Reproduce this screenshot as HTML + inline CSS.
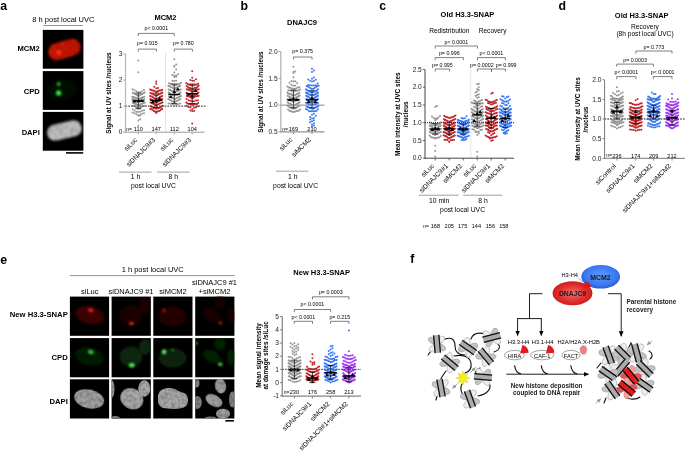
<!DOCTYPE html>
<html><head><meta charset="utf-8"><style>
html,body{margin:0;padding:0;background:#fff;width:685px;height:451px;overflow:hidden}
svg{display:block;filter:blur(0.3px);font-family:"Liberation Sans", sans-serif}
</style></head><body>
<svg width="685" height="451" viewBox="0 0 685 451">
<text x="0.3" y="10.2" font-size="12.3" text-anchor="start" font-weight="bold" fill="#000">a</text>
<text x="240.5" y="10.2" font-size="12.3" text-anchor="start" font-weight="bold" fill="#000">b</text>
<text x="379.3" y="10.2" font-size="12.3" text-anchor="start" font-weight="bold" fill="#000">c</text>
<text x="558.5" y="10.2" font-size="12.3" text-anchor="start" font-weight="bold" fill="#000">d</text>
<text x="0.3" y="263.8" font-size="12.3" text-anchor="start" font-weight="bold" fill="#000">e</text>
<text x="410.3" y="263.4" font-size="12.3" text-anchor="start" font-weight="bold" fill="#000">f</text>
<line x1="125.5" y1="106.13" x2="205.5" y2="106.13" stroke="#444" stroke-width="0.75" stroke-dasharray="1.6 1.2"/>
<line x1="165.6" y1="52" x2="165.6" y2="132.2" stroke="#d0d0d0" stroke-width="0.6"/>
<path d="M138.3 125.68h0M138.3 120.47h0M140.2 119.16h0M138.3 115.74h0M140.2 115.62h0M138.3 115.33h0M140.2 114.81h0M136.4 114.19h0M142.1 113.71h0M134.5 113.34h0M144 113.16h0M132.6 112.48h0M138.3 111.92h0M140.2 111.75h0M136.4 111.7h0M142.1 110.67h0M134.5 110.58h0M144 110.34h0M132.6 109.32h0M138.3 108.25h0M139.22 108.17h0M137.38 107.98h0M140.15 107.7h0M136.45 107.19h0M141.07 107.12h0M135.53 106.64h0M141.99 106.62h0M134.61 106.09h0M142.92 106.09h0M133.68 105.96h0M143.84 105.9h0M132.76 105.8h0M144.76 105.74h0M138.3 105.18h0M139.22 105.1h0M137.38 104.73h0M140.15 104.62h0M136.45 104.59h0M141.07 104.36h0M135.53 103.86h0M141.99 103.7h0M134.61 103.66h0M142.92 103.24h0M133.68 103.03h0M143.84 102.94h0M132.76 102.73h0M144.76 102.49h0M138.3 102.19h0M139.05 102.18h0M137.55 101.88h0M139.8 101.76h0M136.8 101.1h0M140.55 100.6h0M136.05 100.59h0M141.3 100.33h0M135.3 100.13h0M142.05 99.75h0M134.55 99.71h0M142.8 99.71h0M133.8 99.69h0M143.55 99.69h0M133.05 99.29h0M144.3 99.26h0M132.3 99.15h0M138.3 98.92h0M138.85 98.89h0M137.75 98.66h0M139.39 98.66h0M137.21 98.45h0M139.94 98.44h0M136.66 98.38h0M140.48 97.94h0M136.12 97.93h0M141.03 97.87h0M135.57 97.84h0M141.57 97.79h0M135.03 97.77h0M142.12 97.71h0M134.48 97.58h0M142.66 97.55h0M133.94 97.52h0M143.21 97.37h0M133.39 97.11h0M143.75 97.08h0M132.85 96.99h0M144.3 96.86h0M132.3 96.73h0M138.3 95.61h0M139.22 95.51h0M137.38 95.42h0M140.15 94.78h0M136.45 94.71h0M141.07 94.56h0M135.53 94.26h0M141.99 94.14h0M134.61 93.68h0M142.92 93.61h0M133.68 93.37h0M143.84 93.01h0M132.76 92.84h0M144.76 92.42h0M138.3 92.37h0M140.2 92.24h0M136.4 91.3h0M142.1 91.28h0M134.5 90.22h0M144 90.1h0M132.6 89.35h0M138.3 72.24h0M138.3 60.51h0" stroke="#969696" stroke-width="2" stroke-linecap="round"/>
<path d="M156.2 112.89h0M156.2 111.67h0M157.4 111.54h0M155 111.42h0M158.6 111.26h0M153.8 111.11h0M159.8 110.63h0M152.6 109.84h0M161 109.59h0M151.4 109.14h0M162.2 108.99h0M150.2 108.94h0M156.2 108.83h0M157.29 108.54h0M155.11 108.14h0M158.38 108.14h0M154.02 108.1h0M159.47 107.7h0M152.93 107.52h0M160.56 107.18h0M151.84 107.11h0M161.65 106.46h0M150.75 106.15h0M162.75 105.64h0M156.2 105.22h0M156.83 105.16h0M155.57 105.08h0M157.46 104.82h0M154.94 104.59h0M158.09 104.34h0M154.31 104.05h0M158.73 103.95h0M153.67 103.93h0M159.36 103.64h0M153.04 103.54h0M159.99 103.4h0M152.41 103.32h0M160.62 103.29h0M151.78 103.01h0M161.25 102.98h0M151.15 102.79h0M161.88 102.77h0M150.52 102.5h0M162.52 102.31h0M156.2 102.27h0M156.56 102.19h0M155.84 102.17h0M156.93 102.16h0M155.47 101.97h0M157.29 101.96h0M155.11 101.86h0M157.65 101.62h0M154.75 101.59h0M158.02 101.54h0M154.38 101.39h0M158.38 101.36h0M154.02 101.35h0M158.75 101.12h0M153.65 101.01h0M159.11 101.01h0M153.29 100.98h0M159.47 100.91h0M152.93 100.91h0M159.84 100.73h0M152.56 100.6h0M160.2 100.36h0M152.2 100.11h0M160.56 100.04h0M151.84 99.98h0M160.93 99.92h0M151.47 99.91h0M161.29 99.84h0M151.11 99.68h0M161.65 99.57h0M150.75 99.35h0M162.02 99.27h0M150.38 99.24h0M162.38 99.2h0M156.2 98.96h0M156.8 98.93h0M155.6 98.68h0M157.4 98.63h0M155 98.49h0M158 98.42h0M154.4 98.2h0M158.6 98.11h0M153.8 98.1h0M159.2 98.03h0M153.2 97.18h0M159.8 96.93h0M152.6 96.88h0M160.4 96.87h0M152 96.59h0M161 96.53h0M151.4 96.47h0M161.6 96.42h0M150.8 96.3h0M162.2 96.11h0M150.2 95.95h0M156.2 95.66h0M156.68 95.54h0M155.72 95.52h0M157.16 95.31h0M155.24 95.15h0M157.64 95.06h0M154.76 94.89h0M158.12 94.87h0M154.28 94.72h0M158.6 94.48h0M153.8 94.41h0M159.08 94.25h0M153.32 94.2h0M159.56 93.96h0M152.84 93.87h0M160.04 93.82h0M152.36 93.75h0M160.52 93.59h0M151.88 93.58h0M161 93.54h0M151.4 93.39h0M161.48 93.25h0M150.92 93.23h0M161.96 92.97h0M150.44 92.92h0M162.44 92.51h0M156.2 92.04h0M156.95 92h0M155.45 91.58h0M157.7 91.03h0M154.7 91.01h0M158.45 90.89h0M153.95 90.69h0M159.2 90.6h0M153.2 90.55h0M159.95 90.45h0M152.45 90.42h0M160.7 90.42h0M151.7 90.37h0M161.45 90.12h0M150.95 89.93h0M162.2 89.73h0M150.2 89.58h0M156.2 88.31h0M158.1 87.98h0M154.3 86.76h0M156.2 83.81h0M156.2 81.59h0" stroke="#c1272d" stroke-width="2" stroke-linecap="round"/>
<path d="M174.3 105.26h0M176.2 104.81h0M172.4 104.15h0M178.1 104.14h0M170.5 103.65h0M180 103.53h0M168.6 103.53h0M174.3 102.27h0M174.97 101.94h0M173.63 101.58h0M175.63 101.41h0M172.97 101.39h0M176.3 101.17h0M172.3 101.15h0M176.97 101h0M171.63 100.91h0M177.63 100.79h0M170.97 100.37h0M178.3 100.19h0M170.3 100.03h0M178.97 99.83h0M169.63 99.56h0M179.63 99.37h0M168.97 99.35h0M180.3 99.24h0M168.3 99.03h0M174.3 98.78h0M175.63 98.7h0M172.97 98.03h0M176.97 97.95h0M171.63 97.48h0M178.3 97.18h0M170.3 96.91h0M179.63 96.7h0M168.97 96.53h0M180.97 95.91h0M174.3 95.44h0M175.01 95.36h0M173.59 95.33h0M175.71 95.31h0M172.89 95.25h0M176.42 95.09h0M172.18 94.92h0M177.12 94.85h0M171.48 94.67h0M177.83 94.4h0M170.77 94.4h0M178.54 94.32h0M170.06 93.89h0M179.24 93.35h0M169.36 92.78h0M179.95 92.68h0M168.65 92.58h0M180.65 92.5h0M174.3 92.24h0M175.1 91.71h0M173.5 91.39h0M175.9 91.39h0M172.7 91.38h0M176.7 91.04h0M171.9 91.03h0M177.5 91.01h0M171.1 90.64h0M178.3 90.51h0M170.3 90.05h0M179.1 89.98h0M169.5 89.74h0M179.9 89.66h0M168.7 89.56h0M180.7 89.44h0M174.3 89h0M175.05 89h0M173.55 88.6h0M175.8 87.98h0M172.8 87.82h0M176.55 87.81h0M172.05 87.59h0M177.3 87.52h0M171.3 87.28h0M178.05 86.92h0M170.55 86.68h0M178.8 86.35h0M169.8 86.25h0M179.55 86.21h0M169.05 86.09h0M180.3 86.03h0M168.3 85.88h0M174.3 85.19h0M175.63 85.14h0M172.97 85.08h0M176.97 84.87h0M171.63 84.19h0M178.3 84h0M170.3 83.73h0M179.63 83.69h0M168.97 83.32h0M180.97 82.63h0M174.3 80.88h0M176.2 80.71h0M172.4 80.63h0M174.3 77.01h0M176.2 76.82h0M174.3 75.72h0M176.2 75.6h0M172.4 74.92h0M178.1 74.37h0M174.3 72.51h0M176.2 69.38h0M174.3 66.87h0M174.3 65.72h0M176.2 64.42h0M174.3 59.2h0" stroke="#969696" stroke-width="2" stroke-linecap="round"/>
<path d="M192.2 123.6h0M192.2 111.05h0M194.1 111h0M190.3 110.48h0M192.2 108.88h0M194.1 107.76h0M190.3 107.33h0M196 107.2h0M188.4 106.89h0M197.9 106.37h0M186.5 105.69h0M192.2 105.05h0M193.4 104.29h0M191 104.28h0M194.6 104.22h0M189.8 104.12h0M195.8 104.07h0M188.6 104.02h0M197 103.88h0M187.4 103.21h0M198.2 102.89h0M186.2 102.45h0M192.2 101.36h0M194.1 101.33h0M190.3 100.63h0M196 100.53h0M188.4 100.14h0M197.9 100.13h0M186.5 99.01h0M192.2 98.38h0M193.12 97.88h0M191.28 97.53h0M194.05 97.24h0M190.35 97.1h0M194.97 96.62h0M189.43 96.52h0M195.89 96.36h0M188.51 96.34h0M196.82 96.22h0M187.58 96.13h0M197.74 96.09h0M186.66 95.99h0M198.66 95.75h0M192.2 95.2h0M192.91 95.14h0M191.49 94.98h0M193.61 94.9h0M190.79 94.87h0M194.32 94.61h0M190.08 94.59h0M195.02 94.35h0M189.38 94.35h0M195.73 94.34h0M188.67 94.18h0M196.44 94.11h0M187.96 93.89h0M197.14 93.85h0M187.26 93.57h0M197.85 92.79h0M186.55 92.69h0M198.55 92.52h0M192.2 92.12h0M193.29 91.17h0M191.11 91.12h0M194.38 90.43h0M190.02 90.32h0M195.47 89.92h0M188.93 89.86h0M196.56 89.69h0M187.84 89.65h0M197.65 89.47h0M186.75 89.23h0M198.75 89.21h0M192.2 88.96h0M193 88.95h0M191.4 88.65h0M193.8 88.61h0M190.6 88.14h0M194.6 88h0M189.8 87.99h0M195.4 87.95h0M189 87.74h0M196.2 87.65h0M188.2 87.28h0M197 87.26h0M187.4 86.61h0M197.8 86.42h0M186.6 86.11h0M198.6 85.87h0M192.2 85.54h0M193.7 85.45h0M190.7 85.06h0M195.2 84.78h0M189.2 84.65h0M196.7 84.42h0M187.7 84.09h0M198.2 83.77h0M186.2 83.08h0M192.2 80.86h0M194.1 80.69h0M190.3 80h0M196 79.3h0M192.2 77.72h0M192.2 71.16h0" stroke="#c1272d" stroke-width="2" stroke-linecap="round"/>
<line x1="132.3" y1="100.92" x2="144.3" y2="100.92" stroke="#000" stroke-width="1.4"/>
<line x1="138.3" y1="108.74" x2="138.3" y2="93.09" stroke="#000" stroke-width="0.7"/>
<line x1="135.3" y1="108.74" x2="141.3" y2="108.74" stroke="#000" stroke-width="0.7"/>
<line x1="135.3" y1="93.09" x2="141.3" y2="93.09" stroke="#000" stroke-width="0.7"/>
<path d="M134.8 99.44l1.9 3.1h-3.8z" stroke="none" fill="#000" stroke-width="0.8"/>
<path d="M138.8 98.92l1.9 3.1h-3.8z" stroke="none" fill="#000" stroke-width="0.8"/>
<path d="M141.8 98.92l1.9 3.1h-3.8z" stroke="none" fill="#000" stroke-width="0.8"/>
<line x1="150.2" y1="100.39" x2="162.2" y2="100.39" stroke="#000" stroke-width="1.4"/>
<line x1="156.2" y1="107.43" x2="156.2" y2="93.09" stroke="#000" stroke-width="0.7"/>
<line x1="153.2" y1="107.43" x2="159.2" y2="107.43" stroke="#000" stroke-width="0.7"/>
<line x1="153.2" y1="93.09" x2="159.2" y2="93.09" stroke="#000" stroke-width="0.7"/>
<path d="M152.7 100.22l1.9 3.1h-3.8z" stroke="none" fill="#000" stroke-width="0.8"/>
<path d="M156.2 98.92l1.9 3.1h-3.8z" stroke="none" fill="#000" stroke-width="0.8"/>
<path d="M159.7 96.83l1.9 3.1h-3.8z" stroke="none" fill="#000" stroke-width="0.8"/>
<line x1="168.3" y1="94.4" x2="180.3" y2="94.4" stroke="#000" stroke-width="1.4"/>
<line x1="174.3" y1="103.52" x2="174.3" y2="83.97" stroke="#000" stroke-width="0.7"/>
<line x1="171.3" y1="103.52" x2="177.3" y2="103.52" stroke="#000" stroke-width="0.7"/>
<line x1="171.3" y1="83.97" x2="177.3" y2="83.97" stroke="#000" stroke-width="0.7"/>
<path d="M170.8 95.01l1.9 3.1h-3.8z" stroke="none" fill="#000" stroke-width="0.8"/>
<path d="M174.3 89.79l1.9 3.1h-3.8z" stroke="none" fill="#000" stroke-width="0.8"/>
<path d="M177.8 87.18l1.9 3.1h-3.8z" stroke="none" fill="#000" stroke-width="0.8"/>
<line x1="186.2" y1="93.62" x2="198.2" y2="93.62" stroke="#000" stroke-width="1.4"/>
<line x1="192.2" y1="103.52" x2="192.2" y2="83.97" stroke="#000" stroke-width="0.7"/>
<line x1="189.2" y1="103.52" x2="195.2" y2="103.52" stroke="#000" stroke-width="0.7"/>
<line x1="189.2" y1="83.97" x2="195.2" y2="83.97" stroke="#000" stroke-width="0.7"/>
<path d="M188.7 92.4l1.9 3.1h-3.8z" stroke="none" fill="#000" stroke-width="0.8"/>
<path d="M192.2 94.22l1.9 3.1h-3.8z" stroke="none" fill="#000" stroke-width="0.8"/>
<path d="M195.7 89.01l1.9 3.1h-3.8z" stroke="none" fill="#000" stroke-width="0.8"/>
<line x1="125.5" y1="106.13" x2="205.5" y2="106.13" stroke="#444" stroke-width="0.75" stroke-dasharray="1.6 1.2"/>
<line x1="125.5" y1="53.99" x2="125.5" y2="132.6" stroke="#bbbbbb" stroke-width="1.3"/>
<line x1="125.1" y1="132.2" x2="204.5" y2="132.2" stroke="#9a9a9a" stroke-width="1"/>
<line x1="123.3" y1="132.2" x2="125.5" y2="132.2" stroke="#888" stroke-width="0.8"/>
<text x="122.3" y="134.47" font-size="6.6" text-anchor="end" fill="#222">0</text>
<line x1="123.3" y1="106.13" x2="125.5" y2="106.13" stroke="#888" stroke-width="0.8"/>
<text x="122.3" y="108.4" font-size="6.6" text-anchor="end" fill="#222">1</text>
<line x1="123.3" y1="80.06" x2="125.5" y2="80.06" stroke="#888" stroke-width="0.8"/>
<text x="122.3" y="82.33" font-size="6.6" text-anchor="end" fill="#222">2</text>
<line x1="123.3" y1="53.99" x2="125.5" y2="53.99" stroke="#888" stroke-width="0.8"/>
<text x="122.3" y="56.26" font-size="6.6" text-anchor="end" fill="#222">3</text>
<line x1="138.3" y1="132.2" x2="138.3" y2="134.5" stroke="#9a9a9a" stroke-width="0.8"/>
<line x1="156.2" y1="132.2" x2="156.2" y2="134.5" stroke="#9a9a9a" stroke-width="0.8"/>
<line x1="174.3" y1="132.2" x2="174.3" y2="134.5" stroke="#9a9a9a" stroke-width="0.8"/>
<line x1="192.2" y1="132.2" x2="192.2" y2="134.5" stroke="#9a9a9a" stroke-width="0.8"/>
<text x="126.2" y="131.12" font-size="5" text-anchor="start" fill="#000">n=</text>
<text x="138.3" y="131.33" font-size="5.6" text-anchor="middle" fill="#000">110</text>
<text x="156.2" y="131.33" font-size="5.6" text-anchor="middle" fill="#000">147</text>
<text x="174.3" y="131.33" font-size="5.6" text-anchor="middle" fill="#000">112</text>
<text x="192.2" y="131.33" font-size="5.6" text-anchor="middle" fill="#000">104</text>
<text x="0" y="0" font-size="6.6" text-anchor="end" transform="translate(137.7 140.4) rotate(-45)">siLuc</text>
<text x="0" y="0" font-size="6.6" text-anchor="end" transform="translate(155.6 140.4) rotate(-45)">siDNAJC9#3</text>
<text x="0" y="0" font-size="6.6" text-anchor="end" transform="translate(173.7 140.4) rotate(-45)">siLuc</text>
<text x="0" y="0" font-size="6.6" text-anchor="end" transform="translate(191.6 140.4) rotate(-45)">siDNAJC9#3</text>
<text x="0" y="0" font-size="6.4" font-weight="bold" text-anchor="middle" transform="translate(109.2 93.2) rotate(-90)" dy="2.2">Signal at UV sites /nucleus</text>
<path d="M138.3 36V33.4H174.3V36" stroke="#555" fill="none" stroke-width="0.75"/>
<text x="156.3" y="30.22" font-size="5.3" text-anchor="middle" fill="#000">p&lt; 0.0001</text>
<path d="M138.3 51.7V49.1H156.4V51.7" stroke="#555" fill="none" stroke-width="0.75"/>
<text x="147.35" y="45.22" font-size="5.3" text-anchor="middle" fill="#000">p= 0.915</text>
<path d="M174.3 51.7V49.1H192.4V51.7" stroke="#555" fill="none" stroke-width="0.75"/>
<text x="183.35" y="45.22" font-size="5.3" text-anchor="middle" fill="#000">p= 0.780</text>
<text x="165.5" y="19.78" font-size="7.5" text-anchor="middle" font-weight="bold" fill="#000">MCM2</text>
<line x1="119" y1="172.1" x2="151.6" y2="172.1" stroke="#888" stroke-width="0.8"/>
<line x1="157" y1="172.1" x2="189.6" y2="172.1" stroke="#888" stroke-width="0.8"/>
<text x="135.5" y="179.14" font-size="6.8" text-anchor="middle" fill="#000">1 h</text>
<text x="173.3" y="179.14" font-size="6.8" text-anchor="middle" fill="#000">8 h</text>
<text x="153.5" y="187.64" font-size="6.8" text-anchor="middle" fill="#000">post local UVC</text>
<line x1="280.8" y1="105.15" x2="324.5" y2="105.15" stroke="#999" stroke-width="0.75"/>
<path d="M293.4 111.88h0M294.73 111.87h0M292.07 111.83h0M296.07 111.34h0M290.73 111.11h0M297.4 110.85h0M289.4 110.71h0M298.73 110.67h0M288.07 109.6h0M300.07 109.55h0M293.4 108.72h0M294.15 108.53h0M292.65 108.45h0M294.9 108.18h0M291.9 108.08h0M295.65 108.01h0M291.15 107.96h0M296.4 107.67h0M290.4 107.32h0M297.15 107.05h0M289.65 106.9h0M297.9 106.85h0M288.9 106.63h0M298.65 106.28h0M288.15 106h0M299.4 105.83h0M287.4 105.74h0M293.4 105.6h0M293.88 105.46h0M292.92 105.46h0M294.36 105.44h0M292.44 105.37h0M294.84 105.34h0M291.96 105.24h0M295.32 105.02h0M291.48 105h0M295.8 104.41h0M291 104.25h0M296.28 104.05h0M290.52 103.98h0M296.76 103.97h0M290.04 103.74h0M297.24 103.69h0M289.56 103.65h0M297.72 103.58h0M289.08 103.49h0M298.2 103.24h0M288.6 103.11h0M298.68 102.79h0M288.12 102.63h0M299.16 102.38h0M287.64 102.32h0M299.64 102.31h0M293.4 101.81h0M293.77 101.72h0M293.02 101.66h0M294.15 101.59h0M292.65 101.5h0M294.52 101.05h0M292.27 101.01h0M294.9 100.96h0M291.9 100.85h0M295.27 100.77h0M291.52 100.73h0M295.65 100.72h0M291.15 100.64h0M296.02 100.6h0M290.77 100.37h0M296.4 100.33h0M290.4 100.29h0M296.77 100.2h0M290.02 100.16h0M297.15 100.09h0M289.65 100.04h0M297.52 99.93h0M289.27 99.88h0M297.9 99.88h0M288.9 99.82h0M298.27 99.77h0M288.52 99.7h0M298.65 99.65h0M288.15 99.64h0M299.02 99.61h0M287.77 99.59h0M299.4 99.5h0M287.4 99.38h0M293.4 98.95h0M293.81 98.82h0M292.99 98.62h0M294.23 98.62h0M292.57 98.56h0M294.64 98.52h0M292.16 98.44h0M295.06 98.2h0M291.74 97.82h0M295.47 97.8h0M291.33 97.73h0M295.88 97.64h0M290.92 97.44h0M296.3 97.43h0M290.5 97.34h0M296.71 97.32h0M290.09 97.31h0M297.12 97.26h0M289.68 97.21h0M297.54 97.11h0M289.26 96.86h0M297.95 96.86h0M288.85 96.53h0M298.37 96.2h0M288.43 96.15h0M298.78 96.11h0M288.02 96.05h0M299.19 95.72h0M287.61 95.71h0M299.61 95.71h0M293.4 95.66h0M293.95 95.6h0M292.85 95.23h0M294.49 95.13h0M292.31 94.97h0M295.04 94.89h0M291.76 94.76h0M295.58 94.7h0M291.22 94.66h0M296.13 94.39h0M290.67 94.1h0M296.67 94.03h0M290.13 93.91h0M297.22 93.83h0M289.58 93.82h0M297.76 93.79h0M289.04 93.65h0M298.31 93.64h0M288.49 93.61h0M298.85 93.49h0M287.95 93.29h0M299.4 92.6h0M287.4 92.58h0M293.4 92.2h0M295.11 90.96h0M291.69 90.84h0M296.83 90.72h0M289.97 90.47h0M298.54 90.36h0M288.26 90.32h0M300.26 89.53h0M293.4 89.1h0M294.9 88.84h0M291.9 88.45h0M296.4 88.24h0M290.4 87.82h0M297.9 87.58h0M288.9 87.44h0M299.4 87.23h0M287.4 86.42h0M293.4 85.74h0M295.3 85.46h0M291.5 84.85h0M297.2 82.96h0M289.6 82.78h0M293.4 81.47h0M295.3 81.15h0M291.5 81.05h0M293.4 77.37h0M293.4 73.05h0M293.4 71.98h0M295.3 71.45h0M293.4 66.63h0" stroke="#969696" stroke-width="2" stroke-linecap="round"/>
<path d="M312 126.55h0M313.9 125.48h0M312 124.41h0M313.9 123.34h0M310.1 122.27h0M312 121.2h0M313.9 120.13h0M310.1 119.59h0M312 118.53h0M313.9 117.99h0M310.1 116.92h0M315.8 115.85h0M312 114.78h0M313.9 113.71h0M312 111.31h0M313.5 111.28h0M310.5 111.16h0M315 111.15h0M309 111.13h0M316.5 110.75h0M307.5 109.63h0M318 109.22h0M306 109.03h0M312 108.67h0M313.09 108.66h0M310.91 108.12h0M314.18 107.98h0M309.82 107.8h0M315.27 107.47h0M308.73 107.2h0M316.36 107.19h0M307.64 106.97h0M317.45 106.87h0M306.55 106.41h0M318.55 105.81h0M312 105.45h0M312.55 105.02h0M311.45 104.81h0M313.09 104.55h0M310.91 104.43h0M313.64 104.36h0M310.36 104.32h0M314.18 104.24h0M309.82 104.17h0M314.73 104.15h0M309.27 104.14h0M315.27 104.07h0M308.73 104.06h0M315.82 103.99h0M308.18 103.9h0M316.36 103.79h0M307.64 103.59h0M316.91 103.35h0M307.09 103.19h0M317.45 103.14h0M306.55 103.08h0M318 102.9h0M306 102.74h0M312 102.23h0M312.34 102.13h0M311.66 102.1h0M312.69 102.02h0M311.31 101.95h0M313.03 101.92h0M310.97 101.89h0M313.37 101.8h0M310.63 101.74h0M313.71 101.72h0M310.29 101.71h0M314.06 101.67h0M309.94 101.65h0M314.4 101.57h0M309.6 101.34h0M314.74 101.03h0M309.26 100.96h0M315.09 100.92h0M308.91 100.91h0M315.43 100.82h0M308.57 100.77h0M315.77 100.52h0M308.23 100.35h0M316.11 100.12h0M307.89 100.04h0M316.46 99.95h0M307.54 99.93h0M316.8 99.87h0M307.2 99.7h0M317.14 99.67h0M306.86 99.42h0M317.49 99.35h0M306.51 99.32h0M317.83 99.13h0M306.17 99.04h0M318.17 99.02h0M312 99h0M312.31 98.94h0M311.69 98.93h0M312.62 98.9h0M311.38 98.78h0M312.92 98.68h0M311.08 98.63h0M313.23 98.6h0M310.77 98.59h0M313.54 98.49h0M310.46 98.43h0M313.85 98.42h0M310.15 98.41h0M314.15 98.2h0M309.85 98.15h0M314.46 98.1h0M309.54 98.07h0M314.77 97.9h0M309.23 97.81h0M315.08 97.34h0M308.92 97.15h0M315.38 97.14h0M308.62 97.09h0M315.69 97.06h0M308.31 97.05h0M316 96.76h0M308 96.74h0M316.31 96.69h0M307.69 96.64h0M316.62 96.58h0M307.38 96.39h0M316.92 96.39h0M307.08 96.31h0M317.23 96.25h0M306.77 96.05h0M317.54 95.96h0M306.46 95.91h0M317.85 95.79h0M306.15 95.77h0M318.15 95.75h0M312 95.38h0M312.43 95.28h0M311.57 95.19h0M312.86 95.11h0M311.14 95.04h0M313.29 95.01h0M310.71 95h0M313.71 94.92h0M310.29 94.9h0M314.14 94.77h0M309.86 94.74h0M314.57 94.74h0M309.43 94.54h0M315 94.49h0M309 94.47h0M315.43 94.37h0M308.57 94.33h0M315.86 94.14h0M308.14 93.87h0M316.29 93.72h0M307.71 93.6h0M316.71 93.4h0M307.29 93.36h0M317.14 93.31h0M306.86 93.31h0M317.57 92.84h0M306.43 92.71h0M318 92.71h0M306 92.63h0M312 92.35h0M312.6 92.25h0M311.4 92.21h0M313.2 91.94h0M310.8 91.92h0M313.8 91.84h0M310.2 91.72h0M314.4 91.6h0M309.6 91.58h0M315 91.39h0M309 91.32h0M315.6 91.27h0M308.4 90.98h0M316.2 90.93h0M307.8 90.51h0M316.8 90.44h0M307.2 90.28h0M317.4 90.07h0M306.6 89.66h0M318 89.22h0M306 89.14h0M312 88.88h0M313.33 88.78h0M310.67 88.27h0M314.67 88h0M309.33 87.57h0M316 87.05h0M308 86.58h0M317.33 86.04h0M306.67 86.02h0M318.67 85.81h0M312 85.38h0M313.9 85.38h0M310.1 85.26h0M315.8 85.15h0M308.2 85.05h0M317.7 83.49h0M312 81.44h0M313.9 81.01h0M310.1 80.8h0M315.8 79.74h0M308.2 79.55h0M312 78.75h0M313.9 77.62h0M312 71.98h0M313.9 70.38h0M312 68.77h0" stroke="#3a78f2" stroke-width="2" stroke-linecap="round"/>
<line x1="287.4" y1="99.8" x2="299.4" y2="99.8" stroke="#000" stroke-width="1.4"/>
<line x1="293.4" y1="107.83" x2="293.4" y2="90.17" stroke="#000" stroke-width="0.7"/>
<line x1="290.4" y1="107.83" x2="296.4" y2="107.83" stroke="#000" stroke-width="0.7"/>
<line x1="290.4" y1="90.17" x2="296.4" y2="90.17" stroke="#000" stroke-width="0.7"/>
<path d="M289.9 97.8l1.9 3.1h-3.8z" stroke="none" fill="#000" stroke-width="0.8"/>
<path d="M293.4 96.73l1.9 3.1h-3.8z" stroke="none" fill="#000" stroke-width="0.8"/>
<path d="M296.9 97.8l1.9 3.1h-3.8z" stroke="none" fill="#000" stroke-width="0.8"/>
<line x1="306" y1="99.8" x2="318" y2="99.8" stroke="#000" stroke-width="1.4"/>
<line x1="312" y1="107.83" x2="312" y2="90.71" stroke="#000" stroke-width="0.7"/>
<line x1="309" y1="107.83" x2="315" y2="107.83" stroke="#000" stroke-width="0.7"/>
<line x1="309" y1="90.71" x2="315" y2="90.71" stroke="#000" stroke-width="0.7"/>
<path d="M308.5 99.94l1.9 3.1h-3.8z" stroke="none" fill="#000" stroke-width="0.8"/>
<path d="M312 96.2l1.9 3.1h-3.8z" stroke="none" fill="#000" stroke-width="0.8"/>
<path d="M315.5 99.94l1.9 3.1h-3.8z" stroke="none" fill="#000" stroke-width="0.8"/>
<line x1="280.8" y1="105.15" x2="324.5" y2="105.15" stroke="#999" stroke-width="0.75"/>
<line x1="280.8" y1="51.65" x2="280.8" y2="132.3" stroke="#b5b5b5" stroke-width="1.3"/>
<line x1="280.4" y1="131.9" x2="324.5" y2="131.9" stroke="#777777" stroke-width="1"/>
<line x1="278.6" y1="131.9" x2="280.8" y2="131.9" stroke="#888" stroke-width="0.8"/>
<text x="277.6" y="134.17" font-size="6.6" text-anchor="end" fill="#222">0.5</text>
<line x1="278.6" y1="105.15" x2="280.8" y2="105.15" stroke="#888" stroke-width="0.8"/>
<text x="277.6" y="107.42" font-size="6.6" text-anchor="end" fill="#222">1.0</text>
<line x1="278.6" y1="78.4" x2="280.8" y2="78.4" stroke="#888" stroke-width="0.8"/>
<text x="277.6" y="80.67" font-size="6.6" text-anchor="end" fill="#222">1.5</text>
<line x1="278.6" y1="51.65" x2="280.8" y2="51.65" stroke="#888" stroke-width="0.8"/>
<text x="277.6" y="53.92" font-size="6.6" text-anchor="end" fill="#222">2.0</text>
<line x1="293.4" y1="131.9" x2="293.4" y2="134.2" stroke="#777777" stroke-width="0.8"/>
<line x1="312" y1="131.9" x2="312" y2="134.2" stroke="#777777" stroke-width="0.8"/>
<text x="282.3" y="130.92" font-size="5" text-anchor="start" fill="#000">n=</text>
<text x="293.4" y="131.13" font-size="5.6" text-anchor="middle" fill="#000">169</text>
<text x="312" y="131.13" font-size="5.6" text-anchor="middle" fill="#000">210</text>
<text x="0" y="0" font-size="6.6" text-anchor="end" transform="translate(292.8 140.1) rotate(-45)">siLuc</text>
<text x="0" y="0" font-size="6.6" text-anchor="end" transform="translate(311.4 140.1) rotate(-45)">siMCM2</text>
<text x="0" y="0" font-size="6.4" font-weight="bold" text-anchor="middle" transform="translate(260.4 92.2) rotate(-90)" dy="2.2">Signal at UV sites /nucleus</text>
<path d="M293.4 59.6V57H312V59.6" stroke="#555" fill="none" stroke-width="0.75"/>
<text x="302.7" y="53.02" font-size="5.3" text-anchor="middle" fill="#000">p= 0.375</text>
<text x="302" y="24.78" font-size="7.5" text-anchor="middle" font-weight="bold" fill="#000">DNAJC9</text>
<line x1="276" y1="171.2" x2="308.5" y2="171.2" stroke="#888" stroke-width="0.8"/>
<text x="292.7" y="179.14" font-size="6.8" text-anchor="middle" fill="#000">1 h</text>
<text x="295.6" y="187.64" font-size="6.8" text-anchor="middle" fill="#000">post local UVC</text>
<line x1="425" y1="122.7" x2="514" y2="122.7" stroke="#333" stroke-width="0.75" stroke-dasharray="1 1"/>
<line x1="470.8" y1="69" x2="470.8" y2="158.2" stroke="#d0d0d0" stroke-width="0.6"/>
<path d="M435.2 156.42h0M435.2 151.1h0M435.2 145.77h0M435.2 138.64h0M435.2 138.16h0M436.6 137.71h0M433.8 137.66h0M438 137.65h0M432.4 137.52h0M439.4 137.26h0M431 137.03h0M440.8 136h0M429.6 135.6h0M435.2 135.1h0M435.65 134.85h0M434.75 134.78h0M436.1 134.18h0M434.3 134.13h0M436.54 134.06h0M433.86 133.95h0M436.99 133.93h0M433.41 133.83h0M437.44 133.61h0M432.96 133.44h0M437.89 133.44h0M432.51 133.14h0M438.34 133.14h0M432.06 133.02h0M438.78 133.01h0M431.62 132.77h0M439.23 132.72h0M431.17 132.52h0M439.68 132.51h0M430.72 132.41h0M440.13 132.31h0M430.27 132.13h0M440.58 132.11h0M429.82 132.06h0M441.02 132.01h0M435.2 131.96h0M435.46 131.95h0M434.94 131.87h0M435.72 131.82h0M434.68 131.71h0M435.98 131.63h0M434.42 131.54h0M436.24 131.5h0M434.16 131.42h0M436.5 131.29h0M433.9 131.25h0M436.76 131.21h0M433.64 131.03h0M437.02 130.76h0M433.38 130.76h0M437.28 130.75h0M433.12 130.73h0M437.54 130.65h0M432.86 130.59h0M437.8 130.59h0M432.6 130.52h0M438.07 130.48h0M432.33 130.47h0M438.33 130.47h0M432.07 130.44h0M438.59 130.37h0M431.81 130.12h0M438.85 129.98h0M431.55 129.91h0M439.11 129.88h0M431.29 129.64h0M439.37 129.63h0M431.03 129.55h0M439.63 129.3h0M430.77 129.25h0M439.89 129.25h0M430.51 129.21h0M440.15 129.21h0M430.25 129.18h0M440.41 129.03h0M429.99 128.98h0M440.67 128.91h0M429.73 128.85h0M440.93 128.77h0M435.2 128.69h0M435.44 128.69h0M434.96 128.5h0M435.69 128.45h0M434.71 128.37h0M435.93 128.37h0M434.47 128.35h0M436.17 128.3h0M434.23 128.28h0M436.42 128.25h0M433.98 128.2h0M436.66 128.13h0M433.74 128.09h0M436.9 128.09h0M433.5 128.08h0M437.15 127.98h0M433.25 127.78h0M437.39 127.76h0M433.01 127.58h0M437.63 127.46h0M432.77 127.34h0M437.88 127.33h0M432.52 127.24h0M438.12 126.97h0M432.28 126.97h0M438.37 126.91h0M432.03 126.88h0M438.61 126.64h0M431.79 126.62h0M438.85 126.6h0M431.55 126.53h0M439.1 126.51h0M431.3 126.49h0M439.34 126.48h0M431.06 126.41h0M439.58 126.35h0M430.82 126.16h0M439.83 126.02h0M430.57 125.99h0M440.07 125.93h0M430.33 125.92h0M440.31 125.87h0M430.09 125.81h0M440.56 125.47h0M429.84 125.44h0M440.8 125.44h0M429.6 125.41h0M435.2 125.34h0M435.61 125.28h0M434.79 125.25h0M436.03 125.13h0M434.37 125.06h0M436.44 124.86h0M433.96 124.84h0M436.86 124.83h0M433.54 124.82h0M437.27 124.71h0M433.13 124.69h0M437.69 124.68h0M432.71 124.61h0M438.1 124.59h0M432.3 124.42h0M438.52 124.22h0M431.88 124.17h0M438.93 123.66h0M431.47 123.39h0M439.35 123.37h0M431.05 123.21h0M439.76 123.15h0M430.64 122.91h0M440.18 122.91h0M430.22 122.82h0M440.59 122.53h0M429.81 122.37h0M441.01 122.26h0M435.2 120.49h0M436.8 119.19h0M435.2 118.77h0M436.8 118.39h0M433.6 118.06h0M438.4 117.59h0M432 116.41h0M440 115.9h0M435.2 106.72h0M436.8 106.01h0" stroke="#969696" stroke-width="2" stroke-linecap="round"/>
<path d="M449.2 142.06h0M449.2 141.52h0M450.8 140.25h0M447.6 140.07h0M452.4 140.01h0M446 139.87h0M454 139.71h0M444.4 139.68h0M449.2 138.31h0M449.82 138.1h0M448.58 138.05h0M450.44 137.75h0M447.96 137.68h0M451.07 137.37h0M447.33 137.25h0M451.69 137.15h0M446.71 136.74h0M452.31 136.38h0M446.09 136.36h0M452.93 136.23h0M445.47 136.16h0M453.56 136.01h0M444.84 135.87h0M454.18 135.52h0M444.22 135.48h0M454.8 135.47h0M443.6 135.35h0M449.2 135.29h0M449.49 135.05h0M448.91 134.83h0M449.79 134.76h0M448.61 134.24h0M450.08 134.12h0M448.32 134.1h0M450.38 133.92h0M448.02 133.91h0M450.67 133.88h0M447.73 133.61h0M450.97 133.55h0M447.43 133.52h0M451.26 133.41h0M447.14 133.34h0M451.56 133.31h0M446.84 133.26h0M451.85 133.13h0M446.55 133.04h0M452.15 133.01h0M446.25 132.91h0M452.44 132.88h0M445.96 132.83h0M452.74 132.82h0M445.66 132.72h0M453.03 132.68h0M445.37 132.59h0M453.33 132.59h0M445.07 132.51h0M453.62 132.47h0M444.78 132.43h0M453.92 132.42h0M444.48 132.39h0M454.21 132.32h0M444.19 132.25h0M454.51 132.19h0M443.89 132.18h0M454.8 132.1h0M443.6 132.07h0M449.2 131.96h0M449.56 131.75h0M448.84 131.4h0M449.92 130.95h0M448.48 130.9h0M450.28 130.88h0M448.12 130.87h0M450.65 130.74h0M447.75 130.68h0M451.01 130.63h0M447.39 130.61h0M451.37 130.59h0M447.03 130.34h0M451.73 129.95h0M446.67 129.87h0M452.09 129.79h0M446.31 129.76h0M452.45 129.73h0M445.95 129.65h0M452.81 129.57h0M445.59 129.47h0M453.17 129.46h0M445.23 129.29h0M453.54 129.21h0M444.86 129.11h0M453.9 129.08h0M444.5 129.02h0M454.26 128.94h0M444.14 128.87h0M454.62 128.86h0M443.78 128.81h0M454.98 128.7h0M449.2 128.64h0M449.44 128.61h0M448.96 128.6h0M449.68 128.55h0M448.72 128.55h0M449.91 128.42h0M448.49 128.4h0M450.15 128.31h0M448.25 128.27h0M450.39 128.14h0M448.01 128.13h0M450.63 128.11h0M447.77 128.01h0M450.87 127.96h0M447.53 127.87h0M451.11 127.84h0M447.29 127.7h0M451.34 127.62h0M447.06 127.53h0M451.58 127.52h0M446.82 127.46h0M451.82 127.45h0M446.58 127.4h0M452.06 127.34h0M446.34 127.29h0M452.3 127.17h0M446.1 127.13h0M452.54 127.05h0M445.86 127.03h0M452.77 127h0M445.63 126.98h0M453.01 126.77h0M445.39 126.77h0M453.25 126.74h0M445.15 126.71h0M453.49 126.53h0M444.91 126.52h0M453.73 126.26h0M444.67 126.18h0M453.97 126.16h0M444.43 126h0M454.2 125.97h0M444.2 125.92h0M454.44 125.81h0M443.96 125.62h0M454.68 125.54h0M443.72 125.53h0M454.92 125.5h0M449.2 125.38h0M449.63 125.31h0M448.77 125.22h0M450.06 125.01h0M448.34 124.97h0M450.49 124.94h0M447.91 124.82h0M450.92 124.8h0M447.48 124.69h0M451.35 124.68h0M447.05 124.61h0M451.78 124.32h0M446.62 124.28h0M452.22 124.13h0M446.18 123.99h0M452.65 123.86h0M445.75 123.85h0M453.08 123.82h0M445.32 123.75h0M453.51 123.37h0M444.89 123.35h0M453.94 123.17h0M444.46 123.08h0M454.37 122.99h0M444.03 122.62h0M454.8 122.5h0M443.6 122.38h0M449.2 121.77h0M449.73 121.64h0M448.67 121.59h0M450.27 121.46h0M448.13 121.35h0M450.8 121.12h0M447.6 121h0M451.33 120.89h0M447.07 120.85h0M451.87 120.84h0M446.53 120.83h0M452.4 120.55h0M446 120.31h0M452.93 120.12h0M445.47 120.11h0M453.47 120.11h0M444.93 120.07h0M454 119.68h0M444.4 119.5h0M454.53 119.36h0M443.87 119.34h0M455.07 118.95h0M449.2 118.12h0M450.44 117.86h0M447.96 117.62h0M451.69 117.13h0M446.71 117.1h0M452.93 117.02h0M445.47 116.66h0M454.18 116.28h0M444.22 115.68h0M455.42 115.6h0" stroke="#c1272d" stroke-width="2" stroke-linecap="round"/>
<path d="M463.2 140.05h0M464.8 140.04h0M461.6 139.89h0M466.4 138.91h0M463.2 138.58h0M463.82 137.94h0M462.58 137.84h0M464.44 137.33h0M461.96 137.27h0M465.07 137.26h0M461.33 137.11h0M465.69 137.01h0M460.71 136.77h0M466.31 136.68h0M460.09 136.67h0M466.93 136.55h0M459.47 136.33h0M467.56 136.32h0M458.84 136.14h0M468.18 136.12h0M458.22 136.02h0M468.8 135.8h0M457.6 135.52h0M463.2 135.03h0M463.63 134.97h0M462.77 134.86h0M464.06 134.78h0M462.34 134.75h0M464.49 134.65h0M461.91 134.3h0M464.92 134.29h0M461.48 133.69h0M465.35 133.68h0M461.05 133.64h0M465.78 133.48h0M460.62 133.43h0M466.22 133.09h0M460.18 133.06h0M466.65 133.04h0M459.75 132.87h0M467.08 132.78h0M459.32 132.74h0M467.51 132.68h0M458.89 132.55h0M467.94 132.47h0M458.46 132.21h0M468.37 132.18h0M458.03 132.14h0M468.8 132.07h0M457.6 132.03h0M463.2 131.98h0M463.6 131.95h0M462.8 131.86h0M464 131.84h0M462.4 131.68h0M464.4 131.59h0M462 131.49h0M464.8 131.44h0M461.6 131.27h0M465.2 131.25h0M461.2 131.04h0M465.6 130.99h0M460.8 130.85h0M466 130.72h0M460.4 130.53h0M466.4 130.43h0M460 130.21h0M466.8 130.16h0M459.6 130.05h0M467.2 129.94h0M459.2 129.91h0M467.6 129.87h0M458.8 129.87h0M468 129.69h0M458.4 129.67h0M468.4 129.53h0M458 129.02h0M468.8 128.95h0M457.6 128.92h0M463.2 128.63h0M463.49 128.58h0M462.91 128.48h0M463.77 128.19h0M462.63 128.17h0M464.06 128.17h0M462.34 128.16h0M464.35 128.06h0M462.05 127.96h0M464.64 127.85h0M461.76 127.77h0M464.92 127.69h0M461.48 127.66h0M465.21 127.51h0M461.19 127.47h0M465.5 127.39h0M460.9 127.34h0M465.78 127.34h0M460.62 127.27h0M466.07 127.23h0M460.33 127.08h0M466.36 127.03h0M460.04 126.84h0M466.65 126.78h0M459.75 126.6h0M466.93 126.57h0M459.47 126.53h0M467.22 126.38h0M459.18 126.33h0M467.51 126.32h0M458.89 126.25h0M467.79 126.14h0M458.61 126.05h0M468.08 126.01h0M458.32 125.99h0M468.37 125.96h0M458.03 125.92h0M468.66 125.89h0M457.74 125.74h0M468.94 125.47h0M463.2 125.23h0M463.49 125.14h0M462.91 125.09h0M463.79 124.99h0M462.61 124.96h0M464.08 124.93h0M462.32 124.88h0M464.38 124.88h0M462.02 124.87h0M464.67 124.55h0M461.73 124.54h0M464.97 124.53h0M461.43 124.36h0M465.26 124.36h0M461.14 124.27h0M465.56 124.26h0M460.84 124.16h0M465.85 124.15h0M460.55 124.08h0M466.15 123.98h0M460.25 123.77h0M466.44 123.56h0M459.96 123.5h0M466.74 123.49h0M459.66 123.46h0M467.03 123.44h0M459.37 123.39h0M467.33 123.35h0M459.07 123.25h0M467.62 123.2h0M458.78 123.09h0M467.92 123.03h0M458.48 123.03h0M468.21 122.91h0M458.19 122.75h0M468.51 122.61h0M457.89 122.4h0M468.8 122.18h0M457.6 122.18h0M463.2 122h0M464.13 121.93h0M462.27 121.49h0M465.07 121.26h0M461.33 121.22h0M466 120.95h0M460.4 120.9h0M466.93 120.85h0M459.47 120.6h0M467.87 120.59h0M458.53 120.44h0M468.8 119.7h0M457.6 119.66h0M463.2 118.4h0M464.8 118.15h0M461.6 118.05h0M466.4 116.34h0" stroke="#3a78f2" stroke-width="2" stroke-linecap="round"/>
<path d="M477.2 156.42h0M477.2 151.81h0M477.2 135.12h0M478.8 133.58h0M475.6 132.06h0M477.2 131.94h0M478.8 131.41h0M475.6 131.33h0M480.4 130.03h0M474 129.84h0M482 129.67h0M472.4 129.36h0M477.2 128.19h0M478.44 128.06h0M475.96 127.3h0M479.69 127.27h0M474.71 127.14h0M480.93 126.78h0M473.47 126.53h0M482.18 126.34h0M472.22 125.59h0M483.42 125.48h0M477.2 125.39h0M477.79 125.17h0M476.61 124.95h0M478.38 124.79h0M476.02 124.56h0M478.97 124.45h0M475.43 124.15h0M479.56 124.12h0M474.84 123.92h0M480.15 123.88h0M474.25 123.81h0M480.74 123.71h0M473.66 123.49h0M481.33 123.25h0M473.07 122.84h0M481.92 122.64h0M472.48 122.57h0M482.51 122.5h0M471.89 122.41h0M483.09 122.38h0M477.2 122.04h0M477.95 121.88h0M476.45 121.88h0M478.69 121.87h0M475.71 121.13h0M479.44 121.02h0M474.96 120.97h0M480.19 120.49h0M474.21 120.26h0M480.93 120.24h0M473.47 119.96h0M481.68 119.81h0M472.72 119.78h0M482.43 119.22h0M471.97 119.2h0M483.17 119.05h0M477.2 118.71h0M477.95 118.55h0M476.45 118.39h0M478.69 118.3h0M475.71 117.97h0M479.44 117.94h0M474.96 117.86h0M480.19 116.94h0M474.21 116.92h0M480.93 116.84h0M473.47 116.7h0M481.68 116.59h0M472.72 116.53h0M482.43 116.43h0M471.97 116.25h0M483.17 115.76h0M477.2 115.47h0M477.79 115.38h0M476.61 115.37h0M478.38 115.14h0M476.02 115.06h0M478.97 114.92h0M475.43 114.62h0M479.56 114.18h0M474.84 114.09h0M480.15 114.09h0M474.25 113.81h0M480.74 113.52h0M473.66 113.41h0M481.33 113.39h0M473.07 113.38h0M481.92 113.15h0M472.48 112.78h0M482.51 112.33h0M471.89 112.31h0M483.09 112.2h0M477.2 111.8h0M477.9 111.74h0M476.5 111.63h0M478.6 111.59h0M475.8 111.57h0M479.3 111.53h0M475.1 111.35h0M480 111.03h0M474.4 110.96h0M480.7 110.53h0M473.7 110.33h0M481.4 110.07h0M473 109.99h0M482.1 109.34h0M472.3 109.32h0M482.8 109.1h0M471.6 108.96h0M477.2 108.75h0M478.8 108.4h0M475.6 107.55h0M480.4 106.77h0M474 106.75h0M482 106.37h0M477.2 105.38h0M478.6 105.32h0M475.8 104.81h0M480 104.1h0M474.4 103.22h0M481.4 103.22h0M473 103.19h0M482.8 103.17h0M471.6 102.38h0M477.2 101.97h0M478.8 101.21h0M475.6 100.93h0M480.4 100.63h0M474 100.52h0M482 99.99h0M477.2 97.85h0M478.8 97.14h0M475.6 96.07h0M477.2 95.01h0M478.8 94.3h0M475.6 92.52h0M477.2 91.46h0M478.8 90.04h0M477.2 88.97h0M478.8 87.2h0M477.2 84.36h0M478.8 83.65h0" stroke="#969696" stroke-width="2" stroke-linecap="round"/>
<path d="M491.2 140.81h0M492.8 140.2h0M489.6 138.62h0M491.2 138.06h0M492.6 137.48h0M489.8 137.46h0M494 137.18h0M488.4 137.04h0M495.4 136.93h0M487 136.45h0M496.8 136.27h0M485.6 135.41h0M491.2 135.2h0M492.8 134.12h0M489.6 133.01h0M494.4 132.95h0M488 132.29h0M491.2 131.59h0M492.22 131.23h0M490.18 131.08h0M493.24 131.06h0M489.16 130.53h0M494.25 130.15h0M488.15 130.12h0M495.27 129.74h0M487.13 129.23h0M496.29 129.23h0M486.11 129.09h0M497.31 128.81h0M491.2 128.6h0M491.9 127.98h0M490.5 127.78h0M492.6 127.78h0M489.8 127.75h0M493.3 127.23h0M489.1 127.19h0M494 126.35h0M488.4 126.03h0M494.7 125.99h0M487.7 125.97h0M495.4 125.78h0M487 125.71h0M496.1 125.61h0M486.3 125.59h0M496.8 125.54h0M485.6 125.53h0M491.2 125.31h0M491.73 125.13h0M490.67 125.04h0M492.27 124.81h0M490.13 124.67h0M492.8 124.46h0M489.6 124.35h0M493.33 124.32h0M489.07 123.92h0M493.87 123.85h0M488.53 123.83h0M494.4 123.76h0M488 123.73h0M494.93 123.51h0M487.47 123.02h0M495.47 122.88h0M486.93 122.86h0M496 122.84h0M486.4 122.67h0M496.53 122.58h0M485.87 122.37h0M497.07 122.13h0M491.2 121.92h0M491.95 121.91h0M490.45 121.81h0M492.69 121.78h0M489.71 121.46h0M493.44 121.36h0M488.96 121.33h0M494.19 121.09h0M488.21 120.84h0M494.93 119.91h0M487.47 119.86h0M495.68 119.8h0M486.72 119.1h0M496.43 119.09h0M485.97 118.97h0M497.17 118.93h0M491.2 118.75h0M491.79 118.36h0M490.61 118.14h0M492.38 118.07h0M490.02 117.99h0M492.97 117.57h0M489.43 117.44h0M493.56 117.42h0M488.84 117.3h0M494.15 117.22h0M488.25 117.14h0M494.74 117.11h0M487.66 117.08h0M495.33 117.01h0M487.07 116.98h0M495.92 116.78h0M486.48 116.03h0M496.51 115.96h0M485.89 115.59h0M497.09 115.57h0M491.2 115.06h0M492.32 115h0M490.08 114.11h0M493.44 113.63h0M488.96 113.59h0M494.56 113.5h0M487.84 113.37h0M495.68 113.13h0M486.72 112.83h0M496.8 112.78h0M485.6 112.26h0M491.2 111.84h0M492.8 110.88h0M489.6 110.74h0M494.4 110.67h0M488 110.07h0M496 109.41h0M486.4 109.01h0M497.6 109.01h0M491.2 108.85h0M491.95 108.83h0M490.45 108.64h0M492.69 108.59h0M489.71 108.5h0M493.44 108.46h0M488.96 107.89h0M494.19 107.87h0M488.21 107.73h0M494.93 107.61h0M487.47 107.55h0M495.68 107.23h0M486.72 106.95h0M496.43 106.9h0M485.97 106.64h0M497.17 106.32h0M491.2 104.41h0M492.8 104.08h0M489.6 103.54h0M494.4 103.36h0M488 103.09h0M496 102.68h0M491.2 102.14h0M492.6 102.05h0M489.8 101.87h0M494 101.38h0M488.4 101.38h0M495.4 100.52h0M487 100.29h0M496.8 99.88h0M485.6 99.76h0M491.2 93.52h0M492.8 92.78h0" stroke="#c1272d" stroke-width="2" stroke-linecap="round"/>
<path d="M505.2 133.66h0M506.8 133.36h0M503.6 133.12h0M505.2 131.99h0M506.8 131.09h0M503.6 130.36h0M508.4 130.3h0M502 129.72h0M505.2 128.63h0M505.86 128.37h0M504.54 128.23h0M506.52 127.9h0M503.88 127.22h0M507.18 127.03h0M503.22 126.83h0M507.84 126.79h0M502.56 126.69h0M508.49 126.64h0M501.91 126.48h0M509.15 126.34h0M501.25 126.31h0M509.81 126.23h0M500.59 126.13h0M510.47 125.76h0M499.93 125.68h0M511.13 125.66h0M505.2 125.28h0M505.95 125.25h0M504.45 124.77h0M506.69 124.62h0M503.71 124.6h0M507.44 124.22h0M502.96 124.19h0M508.19 124.02h0M502.21 123.87h0M508.93 123.84h0M501.47 123.8h0M509.68 123.5h0M500.72 123.15h0M510.43 123.07h0M499.97 122.28h0M511.17 122.13h0M505.2 122.02h0M505.9 121.97h0M504.5 121.68h0M506.6 121.5h0M503.8 121.19h0M507.3 120.98h0M503.1 120.7h0M508 120.44h0M502.4 120.38h0M508.7 120.31h0M501.7 119.96h0M509.4 119.81h0M501 119.73h0M510.1 119.62h0M500.3 119.46h0M510.8 119.11h0M499.6 119h0M505.2 118.77h0M505.54 118.75h0M504.86 118.7h0M505.88 118.68h0M504.52 118.67h0M506.22 118.66h0M504.18 118.61h0M506.56 118.51h0M503.84 118.06h0M506.9 118.05h0M503.5 117.98h0M507.24 117.96h0M503.16 117.86h0M507.58 117.76h0M502.82 117.73h0M507.92 117.33h0M502.48 117.14h0M508.25 116.89h0M502.15 116.88h0M508.59 116.73h0M501.81 116.72h0M508.93 116.64h0M501.47 116.61h0M509.27 116.6h0M501.13 116.6h0M509.61 116.57h0M500.79 116.48h0M509.95 116.11h0M500.45 116.1h0M510.29 115.86h0M500.11 115.82h0M510.63 115.79h0M499.77 115.78h0M510.97 115.76h0M505.2 115.49h0M505.71 115.37h0M504.69 115.22h0M506.22 115.03h0M504.18 114.84h0M506.73 114.42h0M503.67 114.33h0M507.24 114.18h0M503.16 113.88h0M507.75 113.83h0M502.65 113.6h0M508.25 113.51h0M502.15 113.51h0M508.76 113.4h0M501.64 113.22h0M509.27 113.13h0M501.13 112.94h0M509.78 112.72h0M500.62 112.67h0M510.29 112.65h0M500.11 112.63h0M510.8 112.42h0M499.6 112.32h0M505.2 112.16h0M505.86 112.12h0M504.54 112.02h0M506.52 111.96h0M503.88 111.79h0M507.18 111.78h0M503.22 111.75h0M507.84 111.45h0M502.56 111.32h0M508.49 111.07h0M501.91 111.05h0M509.15 110.41h0M501.25 110.05h0M509.81 109.7h0M500.59 109.52h0M510.47 109.16h0M499.93 109.06h0M511.13 109.02h0M505.2 108.75h0M506.8 108.62h0M503.6 108.1h0M508.4 107.78h0M502 106.53h0M510 106.09h0M500.4 105.83h0M505.2 104.99h0M506.8 104.93h0M503.6 103.56h0M508.4 103.14h0M502 102.99h0M505.2 101.85h0M506.8 101.42h0M503.6 100.97h0M508.4 100.75h0M502 100.37h0M510 99.59h0M500.4 99.37h0M505.2 98.41h0M506.8 97.03h0M503.6 96.62h0M508.4 96.47h0M502 96.28h0" stroke="#3a78f2" stroke-width="2" stroke-linecap="round"/>
<line x1="430.2" y1="129.09" x2="440.2" y2="129.09" stroke="#000" stroke-width="1.4"/>
<line x1="435.2" y1="134.06" x2="435.2" y2="123.41" stroke="#000" stroke-width="0.7"/>
<line x1="432.2" y1="134.06" x2="438.2" y2="134.06" stroke="#000" stroke-width="0.7"/>
<line x1="432.2" y1="123.41" x2="438.2" y2="123.41" stroke="#000" stroke-width="0.7"/>
<path d="M432.2 127.8l1.9 3.1h-3.8z" stroke="none" fill="#000" stroke-width="0.8"/>
<path d="M435.2 126.38l1.9 3.1h-3.8z" stroke="none" fill="#000" stroke-width="0.8"/>
<path d="M438.2 127.09l1.9 3.1h-3.8z" stroke="none" fill="#000" stroke-width="0.8"/>
<line x1="444.2" y1="128.73" x2="454.2" y2="128.73" stroke="#000" stroke-width="1.4"/>
<line x1="449.2" y1="134.77" x2="449.2" y2="122.7" stroke="#000" stroke-width="0.7"/>
<line x1="446.2" y1="134.77" x2="452.2" y2="134.77" stroke="#000" stroke-width="0.7"/>
<line x1="446.2" y1="122.7" x2="452.2" y2="122.7" stroke="#000" stroke-width="0.7"/>
<path d="M446.2 127.09l1.9 3.1h-3.8z" stroke="none" fill="#000" stroke-width="0.8"/>
<path d="M449.2 126.02l1.9 3.1h-3.8z" stroke="none" fill="#000" stroke-width="0.8"/>
<path d="M452.2 127.8l1.9 3.1h-3.8z" stroke="none" fill="#000" stroke-width="0.8"/>
<line x1="458.2" y1="129.09" x2="468.2" y2="129.09" stroke="#000" stroke-width="1.4"/>
<line x1="463.2" y1="134.06" x2="463.2" y2="123.76" stroke="#000" stroke-width="0.7"/>
<line x1="460.2" y1="134.06" x2="466.2" y2="134.06" stroke="#000" stroke-width="0.7"/>
<line x1="460.2" y1="123.76" x2="466.2" y2="123.76" stroke="#000" stroke-width="0.7"/>
<path d="M460.2 126.38l1.9 3.1h-3.8z" stroke="none" fill="#000" stroke-width="0.8"/>
<path d="M463.2 127.8l1.9 3.1h-3.8z" stroke="none" fill="#000" stroke-width="0.8"/>
<path d="M466.2 127.09l1.9 3.1h-3.8z" stroke="none" fill="#000" stroke-width="0.8"/>
<line x1="472.2" y1="114.89" x2="482.2" y2="114.89" stroke="#000" stroke-width="1.4"/>
<line x1="477.2" y1="126.25" x2="477.2" y2="103.17" stroke="#000" stroke-width="0.7"/>
<line x1="474.2" y1="126.25" x2="480.2" y2="126.25" stroke="#000" stroke-width="0.7"/>
<line x1="474.2" y1="103.17" x2="480.2" y2="103.17" stroke="#000" stroke-width="0.7"/>
<path d="M474.2 118.92l1.9 3.1h-3.8z" stroke="none" fill="#000" stroke-width="0.8"/>
<path d="M477.2 111.82l1.9 3.1h-3.8z" stroke="none" fill="#000" stroke-width="0.8"/>
<path d="M480.2 110.05l1.9 3.1h-3.8z" stroke="none" fill="#000" stroke-width="0.8"/>
<line x1="486.2" y1="118.44" x2="496.2" y2="118.44" stroke="#000" stroke-width="1.4"/>
<line x1="491.2" y1="128.02" x2="491.2" y2="108.5" stroke="#000" stroke-width="0.7"/>
<line x1="488.2" y1="128.02" x2="494.2" y2="128.02" stroke="#000" stroke-width="0.7"/>
<line x1="488.2" y1="108.5" x2="494.2" y2="108.5" stroke="#000" stroke-width="0.7"/>
<path d="M488.2 120.7l1.9 3.1h-3.8z" stroke="none" fill="#000" stroke-width="0.8"/>
<path d="M491.2 115.38l1.9 3.1h-3.8z" stroke="none" fill="#000" stroke-width="0.8"/>
<path d="M494.2 115.38l1.9 3.1h-3.8z" stroke="none" fill="#000" stroke-width="0.8"/>
<line x1="500.2" y1="118.44" x2="510.2" y2="118.44" stroke="#000" stroke-width="1.4"/>
<line x1="505.2" y1="127.31" x2="505.2" y2="109.21" stroke="#000" stroke-width="0.7"/>
<line x1="502.2" y1="127.31" x2="508.2" y2="127.31" stroke="#000" stroke-width="0.7"/>
<line x1="502.2" y1="109.21" x2="508.2" y2="109.21" stroke="#000" stroke-width="0.7"/>
<path d="M502.2 118.92l1.9 3.1h-3.8z" stroke="none" fill="#000" stroke-width="0.8"/>
<path d="M505.2 116.44l1.9 3.1h-3.8z" stroke="none" fill="#000" stroke-width="0.8"/>
<path d="M508.2 113.6l1.9 3.1h-3.8z" stroke="none" fill="#000" stroke-width="0.8"/>
<line x1="425" y1="122.7" x2="514" y2="122.7" stroke="#333" stroke-width="0.75" stroke-dasharray="1 1"/>
<line x1="425" y1="69.45" x2="425" y2="158.6" stroke="#444444" stroke-width="1"/>
<line x1="424.6" y1="158.2" x2="514" y2="158.2" stroke="#444444" stroke-width="1"/>
<line x1="422.8" y1="158.2" x2="425" y2="158.2" stroke="#444444" stroke-width="0.8"/>
<text x="421.8" y="160.47" font-size="6.6" text-anchor="end" fill="#222">0.0</text>
<line x1="422.8" y1="140.45" x2="425" y2="140.45" stroke="#444444" stroke-width="0.8"/>
<text x="421.8" y="142.72" font-size="6.6" text-anchor="end" fill="#222">0.5</text>
<line x1="422.8" y1="122.7" x2="425" y2="122.7" stroke="#444444" stroke-width="0.8"/>
<text x="421.8" y="124.97" font-size="6.6" text-anchor="end" fill="#222">1.0</text>
<line x1="422.8" y1="104.95" x2="425" y2="104.95" stroke="#444444" stroke-width="0.8"/>
<text x="421.8" y="107.22" font-size="6.6" text-anchor="end" fill="#222">1.5</text>
<line x1="422.8" y1="87.2" x2="425" y2="87.2" stroke="#444444" stroke-width="0.8"/>
<text x="421.8" y="89.47" font-size="6.6" text-anchor="end" fill="#222">2.0</text>
<line x1="422.8" y1="69.45" x2="425" y2="69.45" stroke="#444444" stroke-width="0.8"/>
<text x="421.8" y="71.72" font-size="6.6" text-anchor="end" fill="#222">2.5</text>
<line x1="435.2" y1="158.2" x2="435.2" y2="160.5" stroke="#444444" stroke-width="0.8"/>
<line x1="449.2" y1="158.2" x2="449.2" y2="160.5" stroke="#444444" stroke-width="0.8"/>
<line x1="463.2" y1="158.2" x2="463.2" y2="160.5" stroke="#444444" stroke-width="0.8"/>
<line x1="477.2" y1="158.2" x2="477.2" y2="160.5" stroke="#444444" stroke-width="0.8"/>
<line x1="491.2" y1="158.2" x2="491.2" y2="160.5" stroke="#444444" stroke-width="0.8"/>
<line x1="505.2" y1="158.2" x2="505.2" y2="160.5" stroke="#444444" stroke-width="0.8"/>
<text x="0" y="0" font-size="6.6" text-anchor="end" transform="translate(434.6 166.4) rotate(-45)">siLuc</text>
<text x="0" y="0" font-size="6.6" text-anchor="end" transform="translate(448.6 166.4) rotate(-45)">siDNAJC9#1</text>
<text x="0" y="0" font-size="6.6" text-anchor="end" transform="translate(462.6 166.4) rotate(-45)">siMCM2</text>
<text x="0" y="0" font-size="6.6" text-anchor="end" transform="translate(476.6 166.4) rotate(-45)">siLuc</text>
<text x="0" y="0" font-size="6.6" text-anchor="end" transform="translate(490.6 166.4) rotate(-45)">siDNAJC9#1</text>
<text x="0" y="0" font-size="6.6" text-anchor="end" transform="translate(504.6 166.4) rotate(-45)">siMCM2</text>
<text x="0" y="0" font-size="6.4" font-weight="bold" text-anchor="middle" transform="translate(398.1 114.2) rotate(-90)" dy="2.2">Mean intensity at UVC sites</text>
<text x="0" y="0" font-size="6.4" font-weight="bold" text-anchor="middle" transform="translate(405.9 114.4) rotate(-90)" dy="2.2">/nucleus</text>
<path d="M435.2 48.6V46H477.4V48.6" stroke="#555" fill="none" stroke-width="0.75"/>
<text x="456.3" y="43.82" font-size="5.3" text-anchor="middle" fill="#000">p&lt; 0.0001</text>
<path d="M435.2 60.2V57.6H463.4V60.2" stroke="#555" fill="none" stroke-width="0.75"/>
<text x="449.3" y="55.12" font-size="5.3" text-anchor="middle" fill="#000">p= 0.996</text>
<path d="M477.4 60.2V57.6H505.4V60.2" stroke="#555" fill="none" stroke-width="0.75"/>
<text x="491.4" y="55.12" font-size="5.3" text-anchor="middle" fill="#000">p&lt; 0.0001</text>
<path d="M435.2 71.6V69H449.6V71.6" stroke="#555" fill="none" stroke-width="0.75"/>
<text x="442.4" y="66.82" font-size="5.3" text-anchor="middle" fill="#000">p= 0.995</text>
<path d="M477.4 71.6V69H491.5V71.6" stroke="#555" fill="none" stroke-width="0.75"/>
<text x="481.8" y="66.82" font-size="5.3" text-anchor="middle" fill="#000">p= 0.0002</text>
<path d="M491.5 71.6V69H505.4V71.6" stroke="#555" fill="none" stroke-width="0.75"/>
<text x="506.2" y="66.82" font-size="5.3" text-anchor="middle" fill="#000">p= 0.999</text>
<text x="467.5" y="17.18" font-size="7.5" text-anchor="middle" font-weight="bold" fill="#000">Old H3.3-SNAP</text>
<text x="449.3" y="32.57" font-size="6.6" text-anchor="middle" fill="#000">Redistribution</text>
<text x="492.6" y="32.57" font-size="6.6" text-anchor="middle" fill="#000">Recovery</text>
<line x1="418.7" y1="195.2" x2="458.7" y2="195.2" stroke="#888" stroke-width="0.8"/>
<line x1="463.2" y1="195.2" x2="502.3" y2="195.2" stroke="#888" stroke-width="0.8"/>
<text x="439.2" y="203.04" font-size="6.8" text-anchor="middle" fill="#000">10 min</text>
<text x="483" y="203.04" font-size="6.8" text-anchor="middle" fill="#000">8 h</text>
<text x="462.6" y="211.54" font-size="6.8" text-anchor="middle" fill="#000">post local UVC</text>
<text x="423.3" y="227.92" font-size="5" text-anchor="start" fill="#000">n=</text>
<text x="435.4" y="228.13" font-size="5.6" text-anchor="middle" fill="#000">168</text>
<text x="449.2" y="228.13" font-size="5.6" text-anchor="middle" fill="#000">205</text>
<text x="462.6" y="228.13" font-size="5.6" text-anchor="middle" fill="#000">175</text>
<text x="476.4" y="228.13" font-size="5.6" text-anchor="middle" fill="#000">144</text>
<text x="490.4" y="228.13" font-size="5.6" text-anchor="middle" fill="#000">156</text>
<text x="503.8" y="228.13" font-size="5.6" text-anchor="middle" fill="#000">158</text>
<line x1="604.6" y1="119" x2="685" y2="119" stroke="#444" stroke-width="0.75" stroke-dasharray="1.6 1.2"/>
<path d="M616.9 128.54h0M618.8 127.47h0M615 127.37h0M620.7 127.16h0M613.1 126.59h0M622.6 126.01h0M611.2 125.84h0M616.9 125.18h0M617.99 123.86h0M615.81 123.75h0M619.08 123.64h0M614.72 122.88h0M620.17 122.88h0M613.63 122.87h0M621.26 122.84h0M612.54 122.55h0M622.35 122.39h0M611.45 122.22h0M623.45 122.2h0M616.9 121.95h0M617.45 121.94h0M616.35 121.49h0M617.99 121.48h0M615.81 121.43h0M618.54 121.43h0M615.26 121.41h0M619.08 121.38h0M614.72 121.35h0M619.63 121.16h0M614.17 121.16h0M620.17 120.9h0M613.63 120.76h0M620.72 120.76h0M613.08 120.43h0M621.26 120.41h0M612.54 119.92h0M621.81 119.83h0M611.99 119.63h0M622.35 119.55h0M611.45 119.51h0M622.9 119.08h0M610.9 118.93h0M616.9 118.74h0M617.36 118.52h0M616.44 118.31h0M617.82 118.15h0M615.98 117.89h0M618.28 117.84h0M615.52 117.71h0M618.75 117.56h0M615.05 117.3h0M619.21 117.09h0M614.59 116.92h0M619.67 116.89h0M614.13 116.74h0M620.13 116.68h0M613.67 116.59h0M620.59 116.59h0M613.21 116.59h0M621.05 116.57h0M612.75 116.48h0M621.52 116.45h0M612.28 116.15h0M621.98 116.11h0M611.82 116.1h0M622.44 116.02h0M611.36 115.97h0M622.9 115.94h0M610.9 115.71h0M616.9 115.41h0M617.4 115.39h0M616.4 115.31h0M617.9 115.11h0M615.9 115h0M618.4 114.95h0M615.4 114.91h0M618.9 114.7h0M614.9 114.59h0M619.4 114.49h0M614.4 114.45h0M619.9 114.17h0M613.9 114.15h0M620.4 113.9h0M613.4 113.75h0M620.9 113.75h0M612.9 113.7h0M621.4 113.7h0M612.4 113.18h0M621.9 113.18h0M611.9 113.08h0M622.4 112.91h0M611.4 112.5h0M622.9 112.48h0M610.9 112.39h0M616.9 112.17h0M617.24 112.16h0M616.56 112.15h0M617.59 112.12h0M616.21 111.83h0M617.93 111.79h0M615.87 111.75h0M618.27 111.74h0M615.53 111.68h0M618.61 111.58h0M615.19 111.54h0M618.96 111.49h0M614.84 111.4h0M619.3 111.39h0M614.5 111.32h0M619.64 111.1h0M614.16 111.04h0M619.99 110.96h0M613.81 110.84h0M620.33 110.49h0M613.47 110.41h0M620.67 110.32h0M613.13 110.31h0M621.01 110.27h0M612.79 110.14h0M621.36 110.01h0M612.44 109.99h0M621.7 109.87h0M612.1 109.8h0M622.04 109.7h0M611.76 109.65h0M622.39 109.64h0M611.41 109.62h0M622.73 109.49h0M611.07 109.24h0M623.07 109.02h0M616.9 108.89h0M617.34 108.82h0M616.46 108.79h0M617.79 108.39h0M616.01 108.33h0M618.23 108.29h0M615.57 108.18h0M618.68 107.26h0M615.12 107.22h0M619.12 107.18h0M614.68 107.16h0M619.57 107.01h0M614.23 106.92h0M620.01 106.86h0M613.79 106.86h0M620.46 106.76h0M613.34 106.55h0M620.9 106.51h0M612.9 106.49h0M621.34 106.28h0M612.46 106.24h0M621.79 106.02h0M612.01 106h0M622.23 105.83h0M611.57 105.83h0M622.68 105.77h0M611.12 105.76h0M623.12 105.73h0M616.9 105.5h0M617.27 105.48h0M616.52 105.41h0M617.65 105.33h0M616.15 105.25h0M618.02 105.23h0M615.77 105.12h0M618.4 105.02h0M615.4 104.8h0M618.77 104.78h0M615.02 104.71h0M619.15 104.38h0M614.65 104.21h0M619.52 103.69h0M614.27 103.68h0M619.9 103.62h0M613.9 103.49h0M620.27 103.49h0M613.52 103.29h0M620.65 103.23h0M613.15 102.94h0M621.02 102.86h0M612.77 102.81h0M621.4 102.79h0M612.4 102.76h0M621.77 102.71h0M612.02 102.63h0M622.15 102.57h0M611.65 102.48h0M622.52 102.43h0M611.27 102.39h0M622.9 102.34h0M610.9 102.33h0M616.9 102.16h0M617.45 102.1h0M616.35 102.04h0M617.99 101.27h0M615.81 101.14h0M618.54 100.99h0M615.26 100.93h0M619.08 100.85h0M614.72 100.53h0M619.63 100.41h0M614.17 100.37h0M620.17 100.34h0M613.63 100.3h0M620.72 99.79h0M613.08 99.71h0M621.26 99.65h0M612.54 99.56h0M621.81 99.42h0M611.99 99.29h0M622.35 99.27h0M611.45 99.22h0M622.9 99.2h0M610.9 99.01h0M616.9 98.98h0M617.9 98.91h0M615.9 98.79h0M618.9 98.71h0M614.9 98.61h0M619.9 98.55h0M613.9 98.3h0M620.9 98.09h0M612.9 97.98h0M621.9 97h0M611.9 96.62h0M622.9 96.48h0M610.9 95.82h0M616.9 95.52h0M618.8 95.02h0M615 94.16h0M620.7 93.49h0M613.1 92.98h0M622.6 92.6h0M616.9 91.52h0M618.8 91.12h0M616.9 87.34h0" stroke="#969696" stroke-width="2" stroke-linecap="round"/>
<path d="M635.7 130.64h0M637.6 130.07h0M633.8 130.05h0M639.5 129.82h0M631.9 129.8h0M641.4 129.65h0M630 129.53h0M635.7 127.82h0M636.9 127.61h0M634.5 127.24h0M638.1 126.76h0M633.3 126.25h0M639.3 126.18h0M632.1 126.01h0M640.5 125.93h0M630.9 125.85h0M641.7 125.52h0M629.7 125.4h0M635.7 125.39h0M636.13 124.9h0M635.27 124.8h0M636.56 124.76h0M634.84 124.41h0M636.99 124.05h0M634.41 123.86h0M637.41 123.86h0M633.99 123.7h0M637.84 123.67h0M633.56 123.61h0M638.27 123.57h0M633.13 123.53h0M638.7 123.49h0M632.7 123.49h0M639.13 123.23h0M632.27 123.09h0M639.56 123.03h0M631.84 122.99h0M639.99 122.89h0M631.41 122.89h0M640.41 122.73h0M630.99 122.59h0M640.84 122.59h0M630.56 122.59h0M641.27 122.55h0M630.13 122.33h0M641.7 122.28h0M629.7 122.11h0M635.7 121.94h0M636.13 121.81h0M635.27 121.79h0M636.56 121.11h0M634.84 120.96h0M636.99 120.88h0M634.41 120.84h0M637.41 120.82h0M633.99 120.63h0M637.84 120.62h0M633.56 120.45h0M638.27 120.39h0M633.13 120.35h0M638.7 120.32h0M632.7 120.27h0M639.13 120.27h0M632.27 120.22h0M639.56 120.19h0M631.84 120.11h0M639.99 119.9h0M631.41 119.82h0M640.41 119.64h0M630.99 119.55h0M640.84 119.48h0M630.56 119.34h0M641.27 119.17h0M630.13 118.89h0M641.7 118.84h0M629.7 118.82h0M635.7 118.61h0M636.1 118.59h0M635.3 118.52h0M636.5 118.5h0M634.9 118.46h0M636.9 118.4h0M634.5 118.35h0M637.3 118.08h0M634.1 118.06h0M637.7 118.02h0M633.7 117.97h0M638.1 117.76h0M633.3 117.65h0M638.5 117.31h0M632.9 117.19h0M638.9 117.19h0M632.5 117.03h0M639.3 116.91h0M632.1 116.89h0M639.7 116.88h0M631.7 116.85h0M640.1 116.83h0M631.3 116.72h0M640.5 116.61h0M630.9 116.55h0M640.9 116.23h0M630.5 116h0M641.3 115.94h0M630.1 115.81h0M641.7 115.63h0M629.7 115.55h0M635.7 115.33h0M636.16 115.16h0M635.24 115.15h0M636.62 114.95h0M634.78 114.91h0M637.08 114.87h0M634.32 114.61h0M637.55 114.52h0M633.85 114.49h0M638.01 114.33h0M633.39 114.18h0M638.47 114.08h0M632.93 114.05h0M638.93 113.95h0M632.47 113.79h0M639.39 113.54h0M632.01 113.5h0M639.85 113.4h0M631.55 113.39h0M640.32 113.11h0M631.08 113.04h0M640.78 112.88h0M630.62 112.77h0M641.24 112.67h0M630.16 112.51h0M641.7 112.35h0M629.7 112.34h0M635.7 112.16h0M636.37 112.16h0M635.03 112.02h0M637.03 111.89h0M634.37 111.74h0M637.7 111.65h0M633.7 111.6h0M638.37 111.47h0M633.03 111.39h0M639.03 111.27h0M632.37 111.01h0M639.7 110.87h0M631.7 110.55h0M640.37 110.46h0M631.03 110.18h0M641.03 110.01h0M630.37 109.62h0M641.7 109.43h0M629.7 109.07h0M635.7 108.5h0M637.03 108.08h0M634.37 108h0M638.37 107.85h0M633.03 107.8h0M639.7 107.78h0M631.7 107.58h0M641.03 106.88h0M630.37 106.88h0M642.37 106.34h0M635.7 104.98h0M637.2 104.62h0M634.2 104.57h0M638.7 104.43h0M632.7 103.93h0M640.2 103.59h0M631.2 103.19h0M641.7 103.13h0M629.7 103.02h0M635.7 100.26h0M637.6 99.07h0" stroke="#c1272d" stroke-width="2" stroke-linecap="round"/>
<path d="M653.6 127.57h0M655.5 127.14h0M651.7 126.88h0M657.4 126.62h0M649.8 126.51h0M659.3 126.13h0M647.9 125.43h0M653.6 124.95h0M654.93 124.9h0M652.27 124.73h0M656.27 124.52h0M650.93 124.14h0M657.6 124h0M649.6 123.54h0M658.93 123.54h0M648.27 123.24h0M660.27 122.55h0M653.6 121.86h0M654.46 121.73h0M652.74 121.69h0M655.31 121.67h0M651.89 121.19h0M656.17 120.43h0M651.03 120.38h0M657.03 120.26h0M650.17 120.11h0M657.89 119.68h0M649.31 119.13h0M658.74 119.08h0M648.46 118.99h0M659.6 118.84h0M647.6 118.81h0M653.6 118.79h0M654.03 118.71h0M653.17 118.52h0M654.46 118.41h0M652.74 118.34h0M654.89 118.22h0M652.31 117.81h0M655.31 117.77h0M651.89 117.68h0M655.74 117.66h0M651.46 117.56h0M656.17 117.39h0M651.03 117.3h0M656.6 117.11h0M650.6 117.08h0M657.03 116.92h0M650.17 116.71h0M657.46 116.51h0M649.74 116.49h0M657.89 116.27h0M649.31 116.27h0M658.31 116.12h0M648.89 116.07h0M658.74 115.88h0M648.46 115.87h0M659.17 115.86h0M648.03 115.76h0M659.6 115.6h0M647.6 115.52h0M653.6 115.5h0M654 115.23h0M653.2 115.15h0M654.4 115.07h0M652.8 115.01h0M654.8 114.88h0M652.4 114.82h0M655.2 114.62h0M652 114.6h0M655.6 114.39h0M651.6 114.36h0M656 114.07h0M651.2 113.99h0M656.4 113.98h0M650.8 113.79h0M656.8 113.78h0M650.4 113.74h0M657.2 113.73h0M650 113.37h0M657.6 113.37h0M649.6 113.35h0M658 113.14h0M649.2 113.05h0M658.4 112.9h0M648.8 112.87h0M658.8 112.72h0M648.4 112.69h0M659.2 112.67h0M648 112.59h0M659.6 112.53h0M647.6 112.24h0M653.6 112.19h0M654.03 112.16h0M653.17 112.04h0M654.46 111.94h0M652.74 111.8h0M654.89 111.75h0M652.31 111.72h0M655.31 111.6h0M651.89 111.55h0M655.74 111.41h0M651.46 111.34h0M656.17 111.28h0M651.03 110.73h0M656.6 110.55h0M650.6 110.51h0M657.03 110.2h0M650.17 110.02h0M657.46 109.94h0M649.74 109.74h0M657.89 109.74h0M649.31 109.74h0M658.31 109.57h0M648.89 109.48h0M658.74 109.43h0M648.46 109.41h0M659.17 109.32h0M648.03 109.31h0M659.6 109.23h0M647.6 109.21h0M653.6 108.82h0M654.03 108.77h0M653.17 108.73h0M654.46 108.73h0M652.74 108.31h0M654.89 108.08h0M652.31 107.88h0M655.31 107.77h0M651.89 107.74h0M655.74 107.68h0M651.46 107.38h0M656.17 107.34h0M651.03 107.24h0M656.6 107.22h0M650.6 107.2h0M657.03 107.12h0M650.17 107.02h0M657.46 107h0M649.74 106.99h0M657.89 106.96h0M649.31 106.86h0M658.31 106.81h0M648.89 106.81h0M658.74 106.56h0M648.46 106.47h0M659.17 106.31h0M648.03 105.93h0M659.6 105.92h0M647.6 105.67h0M653.6 105.55h0M654.03 105.46h0M653.17 105.41h0M654.46 105.31h0M652.74 105.22h0M654.89 105.11h0M652.31 105h0M655.31 104.72h0M651.89 104.69h0M655.74 104.62h0M651.46 104.58h0M656.17 104.4h0M651.03 104.36h0M656.6 104.19h0M650.6 104.16h0M657.03 104.12h0M650.17 104.02h0M657.46 104h0M649.74 103.81h0M657.89 103.78h0M649.31 103.57h0M658.31 103.56h0M648.89 103.51h0M658.74 102.97h0M648.46 102.93h0M659.17 102.93h0M648.03 102.87h0M659.6 102.85h0M647.6 102.32h0M653.6 101.85h0M654.46 101.7h0M652.74 101.63h0M655.31 100.59h0M651.89 100.55h0M656.17 100.37h0M651.03 100.23h0M657.03 100.22h0M650.17 100.08h0M657.89 99.9h0M649.31 99.67h0M658.74 99.51h0M648.46 99.44h0M659.6 99.37h0M647.6 99.29h0M653.6 98.8h0M654.69 98.74h0M652.51 98.7h0M655.78 98.64h0M651.42 98.62h0M656.87 98.52h0M650.33 98.12h0M657.96 97.55h0M649.24 96.97h0M659.05 96.88h0M648.15 96.56h0M660.15 96.11h0M653.6 94.04h0M655.5 93.91h0M651.7 92.51h0" stroke="#3a78f2" stroke-width="2" stroke-linecap="round"/>
<path d="M672 128.5h0M672.75 128.15h0M671.25 128h0M673.5 127.76h0M670.5 127.64h0M674.25 127.32h0M669.75 127h0M675 126.74h0M669 126.23h0M675.75 126.14h0M668.25 126.04h0M676.5 126.02h0M667.5 125.82h0M677.25 125.7h0M666.75 125.54h0M678 125.52h0M666 125.41h0M672 125.26h0M672.5 125.25h0M671.5 125.17h0M673 125.04h0M671 125.01h0M673.5 125.01h0M670.5 124.94h0M674 124.84h0M670 124.79h0M674.5 124.62h0M669.5 124.41h0M675 124.18h0M669 123.98h0M675.5 123.87h0M668.5 123.7h0M676 123.49h0M668 123.19h0M676.5 123.1h0M667.5 123.07h0M677 122.94h0M667 122.86h0M677.5 122.86h0M666.5 122.55h0M678 122.34h0M666 122.32h0M672 122.05h0M672.27 121.95h0M671.73 121.95h0M672.55 121.92h0M671.45 121.74h0M672.82 121.67h0M671.18 121.62h0M673.09 121.42h0M670.91 121.33h0M673.36 121.31h0M670.64 121.3h0M673.64 121.16h0M670.36 121.11h0M673.91 120.85h0M670.09 120.73h0M674.18 120.57h0M669.82 120.48h0M674.45 120.43h0M669.55 120.32h0M674.73 120.32h0M669.27 120.31h0M675 120.18h0M669 120.14h0M675.27 120.11h0M668.73 120.04h0M675.55 120.04h0M668.45 119.98h0M675.82 119.97h0M668.18 119.93h0M676.09 119.89h0M667.91 119.86h0M676.36 119.85h0M667.64 119.8h0M676.64 119.8h0M667.36 119.76h0M676.91 119.75h0M667.09 119.69h0M677.18 119.68h0M666.82 119.57h0M677.45 119.44h0M666.55 119.44h0M677.73 119.4h0M666.27 119.24h0M678 119.22h0M666 118.9h0M672 118.72h0M672.36 118.52h0M671.64 118.41h0M672.73 118.3h0M671.27 117.92h0M673.09 117.88h0M670.91 117.86h0M673.45 117.85h0M670.55 117.71h0M673.82 117.49h0M670.18 117.49h0M674.18 117.23h0M669.82 117.15h0M674.55 117.12h0M669.45 116.85h0M674.91 116.77h0M669.09 116.61h0M675.27 116.55h0M668.73 116.35h0M675.64 116.31h0M668.36 116.3h0M676 116.3h0M668 116.26h0M676.36 116.24h0M667.64 116.07h0M676.73 116.06h0M667.27 115.93h0M677.09 115.89h0M666.91 115.87h0M677.45 115.81h0M666.55 115.69h0M677.82 115.67h0M666.18 115.67h0M678.18 115.51h0M672 115.47h0M672.52 115.38h0M671.48 115.36h0M673.04 115.19h0M670.96 114.76h0M673.57 114.75h0M670.43 114.31h0M674.09 114.24h0M669.91 114.13h0M674.61 113.75h0M669.39 113.75h0M675.13 113.71h0M668.87 113.6h0M675.65 113.49h0M668.35 113.45h0M676.17 113.25h0M667.83 113.19h0M676.7 113.17h0M667.3 113.08h0M677.22 112.93h0M666.78 112.9h0M677.74 112.77h0M666.26 112.69h0M678.26 112.38h0M672 112.17h0M672.52 112.1h0M671.48 111.8h0M673.04 111.71h0M670.96 111.7h0M673.57 111.53h0M670.43 111.21h0M674.09 111.04h0M669.91 111.03h0M674.61 110.71h0M669.39 110.64h0M675.13 110.64h0M668.87 110.55h0M675.65 110.44h0M668.35 110.27h0M676.17 110.17h0M667.83 109.99h0M676.7 109.93h0M667.3 109.87h0M677.22 109.75h0M666.78 109.41h0M677.74 109.31h0M666.26 109.17h0M678.26 109.15h0M672 108.82h0M672.6 108.74h0M671.4 108.72h0M673.2 108.64h0M670.8 108.44h0M673.8 108.22h0M670.2 108.06h0M674.4 107.82h0M669.6 107.57h0M675 107.29h0M669 107.11h0M675.6 106.96h0M668.4 106.94h0M676.2 106.66h0M667.8 106.27h0M676.8 106.26h0M667.2 106.1h0M677.4 105.88h0M666.6 105.87h0M678 105.85h0M666 105.67h0M672 105.47h0M672.92 105.35h0M671.08 105.1h0M673.85 104.92h0M670.15 104.71h0M674.77 104.59h0M669.23 104.58h0M675.69 104.27h0M668.31 104.2h0M676.62 103.99h0M667.38 103.93h0M677.54 103.23h0M666.46 103.19h0M678.46 102.49h0M672 102.1h0M673.9 102.06h0M670.1 101.84h0M675.8 101.51h0M668.2 99.56h0M677.7 99.13h0M672 98.42h0M672 93.9h0" stroke="#a23af0" stroke-width="2" stroke-linecap="round"/>
<line x1="610.9" y1="111.14" x2="622.9" y2="111.14" stroke="#000" stroke-width="1.4"/>
<line x1="616.9" y1="119" x2="616.9" y2="102.49" stroke="#000" stroke-width="0.7"/>
<line x1="613.9" y1="119" x2="619.9" y2="119" stroke="#000" stroke-width="0.7"/>
<line x1="613.9" y1="102.49" x2="619.9" y2="102.49" stroke="#000" stroke-width="0.7"/>
<path d="M613.4 110.32l1.9 3.1h-3.8z" stroke="none" fill="#000" stroke-width="0.8"/>
<path d="M616.9 105.21l1.9 3.1h-3.8z" stroke="none" fill="#000" stroke-width="0.8"/>
<path d="M620.4 109.93l1.9 3.1h-3.8z" stroke="none" fill="#000" stroke-width="0.8"/>
<line x1="629.7" y1="117.04" x2="641.7" y2="117.04" stroke="#000" stroke-width="1.4"/>
<line x1="635.7" y1="123.72" x2="635.7" y2="110.35" stroke="#000" stroke-width="0.7"/>
<line x1="632.7" y1="123.72" x2="638.7" y2="123.72" stroke="#000" stroke-width="0.7"/>
<line x1="632.7" y1="110.35" x2="638.7" y2="110.35" stroke="#000" stroke-width="0.7"/>
<path d="M632.2 116.21l1.9 3.1h-3.8z" stroke="none" fill="#000" stroke-width="0.8"/>
<path d="M635.7 109.93l1.9 3.1h-3.8z" stroke="none" fill="#000" stroke-width="0.8"/>
<path d="M639.2 115.82l1.9 3.1h-3.8z" stroke="none" fill="#000" stroke-width="0.8"/>
<line x1="647.6" y1="111.93" x2="659.6" y2="111.93" stroke="#000" stroke-width="1.4"/>
<line x1="653.6" y1="119" x2="653.6" y2="105.25" stroke="#000" stroke-width="0.7"/>
<line x1="650.6" y1="119" x2="656.6" y2="119" stroke="#000" stroke-width="0.7"/>
<line x1="650.6" y1="105.25" x2="656.6" y2="105.25" stroke="#000" stroke-width="0.7"/>
<path d="M650.1 113.86l1.9 3.1h-3.8z" stroke="none" fill="#000" stroke-width="0.8"/>
<path d="M653.6 108.35l1.9 3.1h-3.8z" stroke="none" fill="#000" stroke-width="0.8"/>
<path d="M657.1 114.25l1.9 3.1h-3.8z" stroke="none" fill="#000" stroke-width="0.8"/>
<line x1="666" y1="117.82" x2="678" y2="117.82" stroke="#000" stroke-width="1.4"/>
<line x1="672" y1="124.9" x2="672" y2="110.35" stroke="#000" stroke-width="0.7"/>
<line x1="669" y1="124.9" x2="675" y2="124.9" stroke="#000" stroke-width="0.7"/>
<line x1="669" y1="110.35" x2="675" y2="110.35" stroke="#000" stroke-width="0.7"/>
<path d="M668.5 117l1.9 3.1h-3.8z" stroke="none" fill="#000" stroke-width="0.8"/>
<path d="M672 109.14l1.9 3.1h-3.8z" stroke="none" fill="#000" stroke-width="0.8"/>
<path d="M675.5 116.21l1.9 3.1h-3.8z" stroke="none" fill="#000" stroke-width="0.8"/>
<line x1="604.6" y1="119" x2="685" y2="119" stroke="#444" stroke-width="0.75" stroke-dasharray="1.6 1.2"/>
<line x1="604.6" y1="79.7" x2="604.6" y2="158.7" stroke="#777777" stroke-width="1"/>
<line x1="604.2" y1="158.3" x2="685" y2="158.3" stroke="#777777" stroke-width="1"/>
<line x1="602.4" y1="158.3" x2="604.6" y2="158.3" stroke="#777777" stroke-width="0.8"/>
<text x="601.4" y="160.57" font-size="6.6" text-anchor="end" fill="#222">0.0</text>
<line x1="602.4" y1="138.65" x2="604.6" y2="138.65" stroke="#777777" stroke-width="0.8"/>
<text x="601.4" y="140.92" font-size="6.6" text-anchor="end" fill="#222">0.5</text>
<line x1="602.4" y1="119" x2="604.6" y2="119" stroke="#777777" stroke-width="0.8"/>
<text x="601.4" y="121.27" font-size="6.6" text-anchor="end" fill="#222">1.0</text>
<line x1="602.4" y1="99.35" x2="604.6" y2="99.35" stroke="#777777" stroke-width="0.8"/>
<text x="601.4" y="101.62" font-size="6.6" text-anchor="end" fill="#222">1.5</text>
<line x1="602.4" y1="79.7" x2="604.6" y2="79.7" stroke="#777777" stroke-width="0.8"/>
<text x="601.4" y="81.97" font-size="6.6" text-anchor="end" fill="#222">2.0</text>
<line x1="616.9" y1="158.3" x2="616.9" y2="160.6" stroke="#777777" stroke-width="0.8"/>
<line x1="635.7" y1="158.3" x2="635.7" y2="160.6" stroke="#777777" stroke-width="0.8"/>
<line x1="653.6" y1="158.3" x2="653.6" y2="160.6" stroke="#777777" stroke-width="0.8"/>
<line x1="672" y1="158.3" x2="672" y2="160.6" stroke="#777777" stroke-width="0.8"/>
<text x="606.2" y="157.42" font-size="5" text-anchor="start" fill="#000">n=</text>
<text x="616.9" y="157.63" font-size="5.6" text-anchor="middle" fill="#000">236</text>
<text x="635.7" y="157.63" font-size="5.6" text-anchor="middle" fill="#000">174</text>
<text x="653.6" y="157.63" font-size="5.6" text-anchor="middle" fill="#000">209</text>
<text x="672" y="157.63" font-size="5.6" text-anchor="middle" fill="#000">212</text>
<text x="0" y="0" font-size="6.6" text-anchor="end" transform="translate(616.3 166.5) rotate(-45)">siControl</text>
<text x="0" y="0" font-size="6.6" text-anchor="end" transform="translate(635.1 166.5) rotate(-45)">siDNAJC9#1</text>
<text x="0" y="0" font-size="6.6" text-anchor="end" transform="translate(653 166.5) rotate(-45)">siMCM2</text>
<text x="0" y="0" font-size="6.6" text-anchor="end" transform="translate(671.4 166.5) rotate(-45)">siDNAJC9#1+siMCM2</text>
<text x="0" y="0" font-size="6.4" font-weight="bold" text-anchor="middle" transform="translate(578.2 119) rotate(-90)" dy="2.2">Mean intensity at UVC sites</text>
<text x="0" y="0" font-size="6.4" font-weight="bold" text-anchor="middle" transform="translate(585.8 119.6) rotate(-90)" dy="2.2">/nucleus</text>
<path d="M635.9 53.6V51H672V53.6" stroke="#555" fill="none" stroke-width="0.75"/>
<text x="653.95" y="49.12" font-size="5.3" text-anchor="middle" fill="#000">p= 0.773</text>
<path d="M616.7 66.7V64.1H653.4V66.7" stroke="#555" fill="none" stroke-width="0.75"/>
<text x="635.05" y="61.92" font-size="5.3" text-anchor="middle" fill="#000">p= 0.0003</text>
<path d="M616.7 79.2V76.6H635.9V79.2" stroke="#555" fill="none" stroke-width="0.75"/>
<text x="626.3" y="73.62" font-size="5.3" text-anchor="middle" fill="#000">p&lt; 0.0001</text>
<path d="M653.4 79.2V76.6H672V79.2" stroke="#555" fill="none" stroke-width="0.75"/>
<text x="662.7" y="73.62" font-size="5.3" text-anchor="middle" fill="#000">p&lt; 0.0001</text>
<text x="641.7" y="17.88" font-size="7.5" text-anchor="middle" font-weight="bold" fill="#000">Old H3.3-SNAP</text>
<text x="645" y="28.87" font-size="6.6" text-anchor="middle" fill="#000">Recovery</text>
<text x="645" y="36.47" font-size="6.6" text-anchor="middle" fill="#000">(8h post local UVC)</text>
<line x1="282.2" y1="369.4" x2="361" y2="369.4" stroke="#444" stroke-width="0.75" stroke-dasharray="1.6 1.2"/>
<path d="M294.4 381.89h0M296.3 381.68h0M292.5 381.41h0M298.2 381.36h0M290.6 380.28h0M300.1 380.16h0M288.7 379.92h0M294.4 378.92h0M295.32 378.86h0M293.48 378.85h0M296.25 378.49h0M292.55 377.94h0M297.17 377.67h0M291.63 377.39h0M298.09 377.34h0M290.71 377.28h0M299.02 376.74h0M289.78 376.57h0M299.94 376.49h0M288.86 376.36h0M300.86 376.35h0M294.4 376.05h0M294.79 375.93h0M294.01 375.79h0M295.17 375.77h0M293.63 375.76h0M295.56 375.59h0M293.24 375.33h0M295.95 375h0M292.85 374.9h0M296.34 374.82h0M292.46 374.81h0M296.72 374.5h0M292.08 374.49h0M297.11 374.49h0M291.69 374.24h0M297.5 374.19h0M291.3 374.15h0M297.88 374.08h0M290.92 373.98h0M298.27 373.84h0M290.53 373.57h0M298.66 373.56h0M290.14 373.55h0M299.05 373.39h0M289.75 373.38h0M299.43 373.33h0M289.37 373.3h0M299.82 373.25h0M288.98 373.21h0M300.21 372.96h0M288.59 372.92h0M300.59 372.9h0M294.4 372.67h0M294.69 372.62h0M294.11 372.57h0M294.99 372.54h0M293.81 372.54h0M295.28 372.39h0M293.52 372.33h0M295.57 372.26h0M293.23 372.26h0M295.86 372.25h0M292.94 372.22h0M296.16 372.09h0M292.64 372.02h0M296.45 372.01h0M292.35 371.99h0M296.74 371.73h0M292.06 371.71h0M297.03 371.69h0M291.77 371.56h0M297.33 371.52h0M291.47 371.52h0M297.62 371.34h0M291.18 371.11h0M297.91 371.1h0M290.89 370.99h0M298.2 370.82h0M290.6 370.79h0M298.5 370.71h0M290.3 370.62h0M298.79 370.6h0M290.01 370.58h0M299.08 370.55h0M289.72 370.46h0M299.38 370.26h0M289.42 370.08h0M299.67 369.99h0M289.13 369.94h0M299.96 369.83h0M288.84 369.71h0M300.25 369.69h0M288.55 369.63h0M300.55 369.62h0M294.4 369.58h0M294.66 369.54h0M294.14 369.47h0M294.91 369.41h0M293.89 369.28h0M295.17 369.28h0M293.63 369.15h0M295.42 369.09h0M293.38 368.88h0M295.68 368.85h0M293.12 368.8h0M295.93 368.78h0M292.87 368.74h0M296.19 368.58h0M292.61 368.56h0M296.44 368.54h0M292.36 368.54h0M296.7 368.48h0M292.1 368.45h0M296.95 368.27h0M291.85 368.14h0M297.21 368.09h0M291.59 368.04h0M297.46 368h0M291.34 367.98h0M297.72 367.94h0M291.08 367.85h0M297.97 367.71h0M290.83 367.62h0M298.23 367.4h0M290.57 367.36h0M298.49 367.17h0M290.31 367.11h0M298.74 367.09h0M290.06 366.99h0M299 366.96h0M289.8 366.92h0M299.25 366.88h0M289.55 366.83h0M299.51 366.83h0M289.29 366.8h0M299.76 366.79h0M289.04 366.73h0M300.02 366.69h0M288.78 366.66h0M300.27 366.52h0M288.53 366.39h0M300.53 366.36h0M294.4 366.3h0M294.76 366.27h0M294.04 366.26h0M295.13 366.12h0M293.67 366.07h0M295.49 365.98h0M293.31 365.91h0M295.85 365.85h0M292.95 365.77h0M296.22 365.65h0M292.58 365.6h0M296.58 365.37h0M292.22 365.32h0M296.95 365.13h0M291.85 365.07h0M297.31 364.98h0M291.49 364.92h0M297.67 364.81h0M291.13 364.66h0M298.04 364.48h0M290.76 364.44h0M298.4 364.16h0M290.4 364.14h0M298.76 364.13h0M290.04 364.06h0M299.13 364.03h0M289.67 363.85h0M299.49 363.84h0M289.31 363.61h0M299.85 363.6h0M288.95 363.55h0M300.22 363.25h0M288.58 363.11h0M300.58 363.01h0M294.4 362.94h0M294.84 362.75h0M293.96 362.71h0M295.29 362.67h0M293.51 362.48h0M295.73 362.38h0M293.07 362.16h0M296.18 362.12h0M292.62 361.82h0M296.62 361.82h0M292.18 361.81h0M297.07 361.77h0M291.73 361.71h0M297.51 361.69h0M291.29 361.49h0M297.96 361.46h0M290.84 361.46h0M298.4 361.04h0M290.4 361.02h0M298.84 360.9h0M289.96 360.74h0M299.29 360.69h0M289.51 360.68h0M299.73 360.65h0M289.07 360.57h0M300.18 360.51h0M288.62 360.49h0M300.62 360.35h0M294.4 359.67h0M296.3 358.44h0M292.5 357.88h0M298.2 357.76h0M290.6 357.01h0M300.1 356.9h0M288.7 356.64h0M294.4 354.88h0M296.3 354.22h0M292.5 353.56h0M294.4 352.24h0M296.3 351.58h0M292.5 350.92h0M298.2 349.86h0M294.4 349.6h0M296.3 348.28h0M292.5 348.28h0M298.2 347.62h0M290.6 346.96h0M294.4 346.3h0M296.3 345.64h0M292.5 344.58h0M298.2 344.32h0M290.6 343.26h0M294.4 343h0" stroke="#969696" stroke-width="2" stroke-linecap="round"/>
<path d="M312.4 382.22h0M312.61 382.2h0M312.19 382.13h0M312.81 381.74h0M311.99 381.38h0M313.02 381.11h0M311.78 381.1h0M313.23 380.99h0M311.57 380.98h0M313.43 380.98h0M311.37 380.72h0M313.64 380.61h0M311.16 380.57h0M313.85 380.54h0M310.95 380.53h0M314.06 380.47h0M310.74 380.47h0M314.26 380.43h0M310.54 380.42h0M314.47 380.41h0M310.33 380.35h0M314.68 380.24h0M310.12 380.24h0M314.88 380.24h0M309.92 380.17h0M315.09 380.16h0M309.71 380.15h0M315.3 380.13h0M309.5 380.13h0M315.5 380.07h0M309.3 380.07h0M315.71 380.05h0M309.09 380.05h0M315.92 380.01h0M308.88 380h0M316.12 380h0M308.68 379.96h0M316.33 379.94h0M308.47 379.93h0M316.54 379.93h0M308.26 379.93h0M316.74 379.92h0M308.06 379.9h0M316.95 379.84h0M307.85 379.82h0M317.16 379.8h0M307.64 379.78h0M317.37 379.78h0M307.43 379.78h0M317.57 379.74h0M307.23 379.71h0M317.78 379.68h0M307.02 379.68h0M317.99 379.68h0M306.81 379.65h0M318.19 379.63h0M306.61 379.6h0M318.4 379.57h0M306.4 379.54h0M312.4 379.47h0M312.59 379.39h0M312.21 379.37h0M312.77 379.36h0M312.02 379.35h0M312.96 379.34h0M311.84 379.26h0M313.15 379.26h0M311.65 379.18h0M313.34 379.18h0M311.46 379.15h0M313.52 379.14h0M311.27 379.13h0M313.71 379.09h0M311.09 379.08h0M313.9 379.04h0M310.9 379.03h0M314.09 379.01h0M310.71 378.95h0M314.27 378.95h0M310.52 378.94h0M314.46 378.93h0M310.34 378.91h0M314.65 378.91h0M310.15 378.9h0M314.84 378.89h0M309.96 378.88h0M315.02 378.88h0M309.77 378.87h0M315.21 378.85h0M309.59 378.85h0M315.4 378.82h0M309.4 378.82h0M315.59 378.77h0M309.21 378.77h0M315.77 378.69h0M309.02 378.69h0M315.96 378.64h0M308.84 378.57h0M316.15 378.41h0M308.65 378.37h0M316.34 377.92h0M308.46 377.9h0M316.52 377.83h0M308.27 377.73h0M316.71 377.71h0M308.09 377.64h0M316.9 377.49h0M307.9 377.43h0M317.09 377.18h0M307.71 377.14h0M317.27 377.1h0M307.52 377.08h0M317.46 377.07h0M307.34 377.04h0M317.65 377.02h0M307.15 376.97h0M317.84 376.88h0M306.96 376.75h0M318.02 376.7h0M306.77 376.7h0M318.21 376.56h0M306.59 376.48h0M318.4 376.36h0M306.4 376.32h0M312.4 376.2h0M312.88 376.19h0M311.92 376.12h0M313.36 376.12h0M311.44 376.08h0M313.84 375.99h0M310.96 375.77h0M314.32 375.75h0M310.48 375.52h0M314.8 375.5h0M310 375.22h0M315.28 374.88h0M309.52 374.88h0M315.76 374.69h0M309.04 374.63h0M316.24 374.54h0M308.56 374.42h0M316.72 374.38h0M308.08 374.09h0M317.2 373.97h0M307.6 373.84h0M317.68 373.81h0M307.12 373.59h0M318.16 373.39h0M306.64 373.2h0M318.64 372.9h0M312.4 372.34h0M313.9 372.32h0M310.9 371.63h0M315.4 371.45h0M309.4 371.37h0M316.9 370.92h0M307.9 370.65h0M318.4 370.52h0M306.4 369.65h0M312.4 369.33h0M313.73 369.15h0M311.07 369.03h0M315.07 368.78h0M309.73 368.7h0M316.4 368.67h0M308.4 368.46h0M317.73 367.37h0M307.07 366.73h0M319.07 366.62h0M312.4 364.78h0M314.3 364.12h0M312.4 362.8h0M314.3 362.14h0M310.5 361.48h0M312.4 358.18h0M312.4 354.22h0" stroke="#c1272d" stroke-width="2" stroke-linecap="round"/>
<path d="M330.6 382.44h0M332.31 381.61h0M328.89 381.29h0M334.03 381.13h0M327.17 380.5h0M335.74 380.38h0M325.46 380h0M337.46 379.67h0M330.6 379.48h0M330.95 379.45h0M330.25 379.42h0M331.31 379.42h0M329.89 379.21h0M331.66 379.1h0M329.54 379.07h0M332.01 378.96h0M329.19 378.62h0M332.36 378.57h0M328.84 378.52h0M332.72 378.41h0M328.48 378.4h0M333.07 378.33h0M328.13 378.33h0M333.42 378h0M327.78 377.97h0M333.78 377.96h0M327.42 377.94h0M334.13 377.92h0M327.07 377.85h0M334.48 377.77h0M326.72 377.68h0M334.84 377.68h0M326.36 377.52h0M335.19 377.46h0M326.01 377.45h0M335.54 377.33h0M325.66 376.94h0M335.89 376.87h0M325.31 376.87h0M336.25 376.82h0M324.95 376.8h0M336.6 376.55h0M324.6 376.33h0M330.6 376.19h0M330.77 376h0M330.43 375.95h0M330.94 375.9h0M330.26 375.87h0M331.11 375.82h0M330.09 375.78h0M331.29 375.75h0M329.91 375.74h0M331.46 375.69h0M329.74 375.65h0M331.63 375.53h0M329.57 375.45h0M331.8 375.41h0M329.4 375.39h0M331.97 375.32h0M329.23 375.31h0M332.14 375.28h0M329.06 375.13h0M332.31 375.12h0M328.89 375.11h0M332.49 375.05h0M328.71 374.99h0M332.66 374.97h0M328.54 374.94h0M332.83 374.88h0M328.37 374.81h0M333 374.75h0M328.2 374.74h0M333.17 374.61h0M328.03 374.51h0M333.34 374.51h0M327.86 374.47h0M333.51 374.45h0M327.69 374.45h0M333.69 374.44h0M327.51 374.4h0M333.86 374.27h0M327.34 374.25h0M334.03 374.19h0M327.17 374.18h0M334.2 374.12h0M327 374.1h0M334.37 374.05h0M326.83 374.05h0M334.54 374.03h0M326.66 373.95h0M334.71 373.93h0M326.49 373.88h0M334.89 373.85h0M326.31 373.82h0M335.06 373.78h0M326.14 373.77h0M335.23 373.77h0M325.97 373.73h0M335.4 373.71h0M325.8 373.69h0M335.57 373.67h0M325.63 373.65h0M335.74 373.6h0M325.46 373.52h0M335.91 373.43h0M325.29 373.31h0M336.09 373.29h0M325.11 373.27h0M336.26 373.22h0M324.94 373.18h0M336.43 373.14h0M324.77 373.06h0M336.6 373.05h0M324.6 372.91h0M330.6 372.86h0M330.83 372.85h0M330.37 372.82h0M331.05 372.81h0M330.15 372.68h0M331.28 372.49h0M329.92 372.49h0M331.51 372.47h0M329.69 372.42h0M331.73 372.29h0M329.47 371.95h0M331.96 371.82h0M329.24 371.71h0M332.18 371.71h0M329.02 371.7h0M332.41 371.55h0M328.79 371.54h0M332.64 371.44h0M328.56 371.22h0M332.86 371.21h0M328.34 371.08h0M333.09 371.06h0M328.11 371.03h0M333.32 370.96h0M327.88 370.95h0M333.54 370.94h0M327.66 370.87h0M333.77 370.83h0M327.43 370.76h0M334 370.75h0M327.2 370.72h0M334.22 370.71h0M326.98 370.67h0M334.45 370.65h0M326.75 370.62h0M334.68 370.58h0M326.52 370.47h0M334.9 370.47h0M326.3 370.42h0M335.13 370.29h0M326.07 370.29h0M335.35 370.2h0M325.85 370.17h0M335.58 370.04h0M325.62 369.94h0M335.81 369.92h0M325.39 369.91h0M336.03 369.91h0M325.17 369.9h0M336.26 369.86h0M324.94 369.78h0M336.49 369.7h0M324.71 369.62h0M336.71 369.61h0M330.6 369.57h0M330.93 369.51h0M330.27 369.35h0M331.27 369.26h0M329.93 369.18h0M331.6 369.1h0M329.6 369.01h0M331.93 369h0M329.27 368.89h0M332.27 368.84h0M328.93 368.75h0M332.6 368.71h0M328.6 368.68h0M332.93 368.65h0M328.27 368.55h0M333.27 368.13h0M327.93 367.91h0M333.6 367.78h0M327.6 367.73h0M333.93 367.66h0M327.27 367.62h0M334.27 367.59h0M326.93 367.55h0M334.6 367.32h0M326.6 367.29h0M334.93 367.23h0M326.27 366.92h0M335.27 366.88h0M325.93 366.86h0M335.6 366.82h0M325.6 366.75h0M335.93 366.73h0M325.27 366.52h0M336.27 366.48h0M324.93 366.46h0M336.6 366.34h0M324.6 366.31h0M330.6 366.29h0M331.15 366.1h0M330.05 366.06h0M331.69 365.85h0M329.51 365.79h0M332.24 365.52h0M328.96 365.39h0M332.78 365.3h0M328.42 365.27h0M333.33 365.22h0M327.87 365.13h0M333.87 365.13h0M327.33 365h0M334.42 364.65h0M326.78 364.5h0M334.96 364.09h0M326.24 363.95h0M335.51 363.94h0M325.69 363.8h0M336.05 363.64h0M325.15 363.57h0M336.6 363.39h0M324.6 363.14h0M330.6 362.26h0M331.8 361.72h0M329.4 361.56h0M333 361.54h0M328.2 360.95h0M334.2 360.44h0M327 360.14h0M335.4 360.1h0M325.8 359.98h0M336.6 359.95h0M324.6 359.77h0M330.6 359.08h0M332.31 359.03h0M328.89 358.52h0M334.03 358.47h0M327.17 357.3h0M335.74 357.09h0M325.46 356.59h0M337.46 356.52h0M330.6 355.93h0M332.5 354.88h0M328.7 354.22h0M334.4 353.56h0M330.6 352.9h0M332.5 352.24h0M328.7 350.92h0M330.6 349.6h0M332.5 348.28h0M330.6 346.3h0M332.5 345.64h0" stroke="#3a78f2" stroke-width="2" stroke-linecap="round"/>
<path d="M348.9 382.52h0M349.25 382.4h0M348.55 381.89h0M349.61 381.79h0M348.19 381.78h0M349.96 381.67h0M347.84 381.66h0M350.31 381.6h0M347.49 381.57h0M350.66 381.42h0M347.14 381.17h0M351.02 381.1h0M346.78 381.06h0M351.37 381.05h0M346.43 380.97h0M351.72 380.9h0M346.08 380.76h0M352.08 380.76h0M345.72 380.71h0M352.43 380.61h0M345.37 380.59h0M352.78 380.54h0M345.02 380.53h0M353.14 380.46h0M344.66 380.4h0M353.49 380.33h0M344.31 380.31h0M353.84 380.21h0M343.96 380.09h0M354.19 380.01h0M343.61 379.97h0M354.55 379.84h0M343.25 379.55h0M354.9 379.54h0M342.9 379.51h0M348.9 379.35h0M349.13 379.31h0M348.67 379.25h0M349.35 379.2h0M348.45 379.12h0M349.58 379.08h0M348.22 379.04h0M349.81 379.03h0M347.99 379.02h0M350.03 379.01h0M347.77 378.98h0M350.26 378.85h0M347.54 378.8h0M350.48 378.8h0M347.32 378.69h0M350.71 378.66h0M347.09 378.66h0M350.94 378.62h0M346.86 378.61h0M351.16 378.58h0M346.64 378.56h0M351.39 378.53h0M346.41 378.29h0M351.62 378.05h0M346.18 377.9h0M351.84 377.76h0M345.96 377.75h0M352.07 377.72h0M345.73 377.72h0M352.3 377.61h0M345.5 377.61h0M352.52 377.58h0M345.28 377.48h0M352.75 377.43h0M345.05 377.43h0M352.98 377.42h0M344.82 377.36h0M353.2 377.32h0M344.6 377.23h0M353.43 377.22h0M344.37 377.19h0M353.65 377.14h0M344.15 377.13h0M353.88 377.03h0M343.92 376.98h0M354.11 376.88h0M343.69 376.82h0M354.33 376.75h0M343.47 376.71h0M354.56 376.62h0M343.24 376.51h0M354.79 376.36h0M343.01 376.23h0M355.01 376.22h0M348.9 376.13h0M349.47 376.12h0M348.33 376.07h0M350.04 376.02h0M347.76 376.02h0M350.61 376h0M347.19 375.87h0M351.19 375.87h0M346.61 375.68h0M351.76 375.65h0M346.04 375.62h0M352.33 375.51h0M345.47 375.5h0M352.9 375.36h0M344.9 375.26h0M353.47 375h0M344.33 374.47h0M354.04 374.1h0M343.76 373.65h0M354.61 373.52h0M343.19 373.14h0M355.19 372.96h0M348.9 372.85h0M349.27 372.83h0M348.52 372.72h0M349.65 372.64h0M348.15 372.06h0M350.02 371.94h0M347.77 371.87h0M350.4 371.77h0M347.4 371.63h0M350.77 371.37h0M347.02 371.25h0M351.15 371.23h0M346.65 371.22h0M351.52 371.21h0M346.27 371.16h0M351.9 370.97h0M345.9 370.92h0M352.27 370.78h0M345.52 370.69h0M352.65 370.68h0M345.15 370.54h0M353.02 370.26h0M344.77 370.2h0M353.4 370.2h0M344.4 370.1h0M353.77 370.07h0M344.02 370.03h0M354.15 369.98h0M343.65 369.96h0M354.52 369.84h0M343.27 369.82h0M354.9 369.64h0M342.9 369.6h0M348.9 369.51h0M349.38 369.46h0M348.42 369.42h0M349.86 369.3h0M347.94 368.82h0M350.34 368.79h0M347.46 368.64h0M350.82 368.56h0M346.98 368.4h0M351.3 368.39h0M346.5 368.29h0M351.78 368.14h0M346.02 368.12h0M352.26 368.11h0M345.54 367.89h0M352.74 367.71h0M345.06 367.43h0M353.22 367.37h0M344.58 367.17h0M353.7 366.94h0M344.1 366.93h0M354.18 366.82h0M343.62 366.77h0M354.66 366.7h0M343.14 366.63h0M355.14 366.4h0M348.9 366.3h0M349.57 366.15h0M348.23 365.88h0M350.23 365.71h0M347.57 365.68h0M350.9 365.61h0M346.9 365.22h0M351.57 365.12h0M346.23 365.11h0M352.23 364.98h0M345.57 364.88h0M352.9 364.75h0M344.9 364.7h0M353.57 364.68h0M344.23 364.53h0M354.23 364.48h0M343.57 364.17h0M354.9 363.7h0M342.9 363.61h0M348.9 362.84h0M350.61 362.84h0M347.19 362.48h0M352.33 361.81h0M345.47 361.54h0M354.04 360.83h0M343.76 360.81h0M355.76 360.09h0M348.9 359.21h0M350.4 358.92h0M347.4 358.72h0M351.9 358.65h0M345.9 358.4h0M353.4 358.2h0M344.4 357.55h0M354.9 357.33h0M342.9 357.1h0M348.9 356.04h0M350.8 355.55h0M347 355.48h0M352.7 355.23h0M345.1 354.73h0M348.9 351.21h0M348.9 330.46h0" stroke="#a23af0" stroke-width="2" stroke-linecap="round"/>
<line x1="288.4" y1="369.4" x2="300.4" y2="369.4" stroke="#000" stroke-width="1.4"/>
<line x1="294.4" y1="378.64" x2="294.4" y2="360.16" stroke="#000" stroke-width="0.7"/>
<line x1="291.4" y1="378.64" x2="297.4" y2="378.64" stroke="#000" stroke-width="0.7"/>
<line x1="291.4" y1="360.16" x2="297.4" y2="360.16" stroke="#000" stroke-width="0.7"/>
<path d="M290.9 368.06l1.9 3.1h-3.8z" stroke="none" fill="#000" stroke-width="0.8"/>
<path d="M294.4 367.66l1.9 3.1h-3.8z" stroke="none" fill="#000" stroke-width="0.8"/>
<path d="M297.9 368.06l1.9 3.1h-3.8z" stroke="none" fill="#000" stroke-width="0.8"/>
<line x1="306.4" y1="377.98" x2="318.4" y2="377.98" stroke="#000" stroke-width="1.4"/>
<line x1="312.4" y1="382.6" x2="312.4" y2="372.04" stroke="#000" stroke-width="0.7"/>
<line x1="309.4" y1="382.6" x2="315.4" y2="382.6" stroke="#000" stroke-width="0.7"/>
<line x1="309.4" y1="372.04" x2="315.4" y2="372.04" stroke="#000" stroke-width="0.7"/>
<path d="M308.9 377.96l1.9 3.1h-3.8z" stroke="none" fill="#000" stroke-width="0.8"/>
<path d="M312.4 374.66l1.9 3.1h-3.8z" stroke="none" fill="#000" stroke-width="0.8"/>
<path d="M315.9 376.64l1.9 3.1h-3.8z" stroke="none" fill="#000" stroke-width="0.8"/>
<line x1="324.6" y1="372.7" x2="336.6" y2="372.7" stroke="#000" stroke-width="1.4"/>
<line x1="330.6" y1="379.3" x2="330.6" y2="365.44" stroke="#000" stroke-width="0.7"/>
<line x1="327.6" y1="379.3" x2="333.6" y2="379.3" stroke="#000" stroke-width="0.7"/>
<line x1="327.6" y1="365.44" x2="333.6" y2="365.44" stroke="#000" stroke-width="0.7"/>
<path d="M327.1 373.34l1.9 3.1h-3.8z" stroke="none" fill="#000" stroke-width="0.8"/>
<path d="M330.6 370.04l1.9 3.1h-3.8z" stroke="none" fill="#000" stroke-width="0.8"/>
<path d="M334.1 372.68l1.9 3.1h-3.8z" stroke="none" fill="#000" stroke-width="0.8"/>
<line x1="342.9" y1="376" x2="354.9" y2="376" stroke="#000" stroke-width="1.4"/>
<line x1="348.9" y1="381.94" x2="348.9" y2="367.42" stroke="#000" stroke-width="0.7"/>
<line x1="345.9" y1="381.94" x2="351.9" y2="381.94" stroke="#000" stroke-width="0.7"/>
<line x1="345.9" y1="367.42" x2="351.9" y2="367.42" stroke="#000" stroke-width="0.7"/>
<path d="M345.4 375.98l1.9 3.1h-3.8z" stroke="none" fill="#000" stroke-width="0.8"/>
<path d="M348.9 374.66l1.9 3.1h-3.8z" stroke="none" fill="#000" stroke-width="0.8"/>
<path d="M352.4 372.68l1.9 3.1h-3.8z" stroke="none" fill="#000" stroke-width="0.8"/>
<line x1="282.2" y1="369.4" x2="361" y2="369.4" stroke="#444" stroke-width="0.75" stroke-dasharray="1.6 1.2"/>
<line x1="282.2" y1="316.6" x2="282.2" y2="396.5" stroke="#666666" stroke-width="1"/>
<line x1="281.8" y1="396.1" x2="361" y2="396.1" stroke="#666666" stroke-width="1"/>
<line x1="280" y1="395.8" x2="282.2" y2="395.8" stroke="#666666" stroke-width="0.8"/>
<text x="279" y="398.07" font-size="6.6" text-anchor="end" fill="#222">-1</text>
<line x1="280" y1="382.6" x2="282.2" y2="382.6" stroke="#666666" stroke-width="0.8"/>
<text x="279" y="384.87" font-size="6.6" text-anchor="end" fill="#222">0</text>
<line x1="280" y1="369.4" x2="282.2" y2="369.4" stroke="#666666" stroke-width="0.8"/>
<text x="279" y="371.67" font-size="6.6" text-anchor="end" fill="#222">1</text>
<line x1="280" y1="356.2" x2="282.2" y2="356.2" stroke="#666666" stroke-width="0.8"/>
<text x="279" y="358.47" font-size="6.6" text-anchor="end" fill="#222">2</text>
<line x1="280" y1="343" x2="282.2" y2="343" stroke="#666666" stroke-width="0.8"/>
<text x="279" y="345.27" font-size="6.6" text-anchor="end" fill="#222">3</text>
<line x1="280" y1="329.8" x2="282.2" y2="329.8" stroke="#666666" stroke-width="0.8"/>
<text x="279" y="332.07" font-size="6.6" text-anchor="end" fill="#222">4</text>
<line x1="280" y1="316.6" x2="282.2" y2="316.6" stroke="#666666" stroke-width="0.8"/>
<text x="279" y="318.87" font-size="6.6" text-anchor="end" fill="#222">5</text>
<line x1="294.4" y1="396.1" x2="294.4" y2="398.4" stroke="#666666" stroke-width="0.8"/>
<line x1="312.4" y1="396.1" x2="312.4" y2="398.4" stroke="#666666" stroke-width="0.8"/>
<line x1="330.6" y1="396.1" x2="330.6" y2="398.4" stroke="#666666" stroke-width="0.8"/>
<line x1="348.9" y1="396.1" x2="348.9" y2="398.4" stroke="#666666" stroke-width="0.8"/>
<text x="283.8" y="394.12" font-size="5" text-anchor="start" fill="#000">n=</text>
<text x="294.4" y="394.33" font-size="5.6" text-anchor="middle" fill="#000">230</text>
<text x="312.4" y="394.33" font-size="5.6" text-anchor="middle" fill="#000">176</text>
<text x="330.6" y="394.33" font-size="5.6" text-anchor="middle" fill="#000">258</text>
<text x="348.9" y="394.33" font-size="5.6" text-anchor="middle" fill="#000">213</text>
<text x="0" y="0" font-size="6.6" text-anchor="end" transform="translate(293.8 404.3) rotate(-45)">siLuc</text>
<text x="0" y="0" font-size="6.6" text-anchor="end" transform="translate(311.8 404.3) rotate(-45)">siDNAJC9#1</text>
<text x="0" y="0" font-size="6.6" text-anchor="end" transform="translate(330 404.3) rotate(-45)">siMCM2</text>
<text x="0" y="0" font-size="6.6" text-anchor="end" transform="translate(348.3 404.3) rotate(-45)">siDNAJC9#1+siMCM2</text>
<text x="0" y="0" font-size="6.4" font-weight="bold" text-anchor="middle" transform="translate(259.2 355.4) rotate(-90)" dy="2.2">Mean signal intensity</text>
<text x="0" y="0" font-size="6.4" font-weight="bold" text-anchor="middle" transform="translate(266.2 355.4) rotate(-90)" dy="2.2">at damage sites /siLuc</text>
<path d="M312.5 299.4V296.8H349V299.4" stroke="#555" fill="none" stroke-width="0.75"/>
<text x="330.75" y="293.52" font-size="5.3" text-anchor="middle" fill="#000">p= 0.0003</text>
<path d="M294.3 312.1V309.5H330.6V312.1" stroke="#555" fill="none" stroke-width="0.75"/>
<text x="312.45" y="306.42" font-size="5.3" text-anchor="middle" fill="#000">p&lt; 0.0001</text>
<path d="M294.3 323.9V321.3H312.5V323.9" stroke="#555" fill="none" stroke-width="0.75"/>
<text x="303.4" y="319.02" font-size="5.3" text-anchor="middle" fill="#000">p&lt; 0.0001</text>
<path d="M330.6 323.9V321.3H349V323.9" stroke="#555" fill="none" stroke-width="0.75"/>
<text x="339.8" y="319.02" font-size="5.3" text-anchor="middle" fill="#000">p= 0.215</text>
<text x="321.7" y="274.98" font-size="7.5" text-anchor="middle" font-weight="bold" fill="#000">New H3.3-SNAP</text>
<defs>
<filter id="b05" x="-50%" y="-50%" width="200%" height="200%"><feGaussianBlur stdDeviation="0.5"/></filter>
<filter id="b1" x="-50%" y="-50%" width="200%" height="200%"><feGaussianBlur stdDeviation="0.8"/></filter>
<filter id="b2" x="-50%" y="-50%" width="200%" height="200%"><feGaussianBlur stdDeviation="1.3"/></filter>
<filter id="b3" x="-50%" y="-50%" width="200%" height="200%"><feGaussianBlur stdDeviation="2"/></filter>
<filter id="tex" x="-20%" y="-20%" width="140%" height="140%">
 <feTurbulence type="fractalNoise" baseFrequency="0.28" numOctaves="2" seed="4" result="t"/>
 <feColorMatrix in="t" type="matrix" values="0 0 0 0 0  0 0 0 0 0  0 0 0 0 0  -1.1 0 0 0 0.72" result="d"/>
 <feComposite in="d" in2="SourceGraphic" operator="in" result="d2"/>
 <feMerge result="m"><feMergeNode in="SourceGraphic"/><feMergeNode in="d2"/></feMerge>
 <feGaussianBlur in="m" stdDeviation="0.55"/>
</filter>
<filter id="tex2" x="-20%" y="-20%" width="140%" height="140%">
 <feTurbulence type="fractalNoise" baseFrequency="0.3" numOctaves="2" seed="9" result="t"/>
 <feColorMatrix in="t" type="matrix" values="0 0 0 0 0  0 0 0 0 0  0 0 0 0 0  -1.2 0 0 0 0.75" result="d"/>
 <feComposite in="d" in2="SourceGraphic" operator="in" result="d2"/>
 <feMerge result="m"><feMergeNode in="SourceGraphic"/><feMergeNode in="d2"/></feMerge>
 <feGaussianBlur in="m" stdDeviation="1.0"/>
</filter>
</defs>
<text x="63.4" y="21.98" font-size="7.5" text-anchor="middle" fill="#000">8 h post local UVC</text>
<line x1="43.5" y1="25.5" x2="83" y2="25.5" stroke="#888" stroke-width="0.9"/>
<clipPath id="c100"><rect x="42.8" y="29.9" width="40.6" height="38.8"/></clipPath>
<clipPath id="c101"><rect x="42.8" y="71.1" width="40.6" height="38.8"/></clipPath>
<clipPath id="c102"><rect x="42.8" y="111.9" width="40.6" height="38.8"/></clipPath>
<rect x="42.8" y="29.9" width="40.6" height="38.8" fill="#000"/>
<g clip-path="url(#c100)">
<rect x="47.8" y="41.0" width="33.2" height="17" rx="8.5" transform="rotate(-16 64.4 49.5)" fill="#c81a10" filter="url(#tex2)"/>
<circle cx="58.8" cy="52.4" r="2.8" fill="#f02a1c" opacity="1" filter="url(#b2)"/>
</g>
<rect x="42.8" y="71.1" width="40.6" height="38.8" fill="#000"/>
<g clip-path="url(#c101)">
<ellipse cx="62.0" cy="90.0" rx="15" ry="10" transform="rotate(-10 62.0 90.0)" fill="#041c04" opacity="0.5" filter="url(#b3)"/>
<circle cx="58.6" cy="84.0" r="2.0" fill="#2cb02c" opacity="1" filter="url(#b1)"/>
<circle cx="58.6" cy="93.0" r="2.7" fill="#3ee03e" opacity="1" filter="url(#b1)"/>
</g>
<rect x="42.8" y="111.9" width="40.6" height="38.8" fill="#000"/>
<g clip-path="url(#c102)">
<rect x="46.8" y="122.4" width="35.2" height="16.2" rx="8.1" transform="rotate(-13 64.4 130.5)" fill="#c4c4c6" filter="url(#tex2)"/>
</g>
<line x1="66" y1="152.9" x2="83.2" y2="152.9" stroke="#000" stroke-width="1.6"/>
<text x="39.8" y="50.71" font-size="7.6" text-anchor="end" font-weight="bold" fill="#000">MCM2</text>
<text x="39.8" y="93.81" font-size="7.6" text-anchor="end" font-weight="bold" fill="#000">CPD</text>
<text x="39.8" y="134.51" font-size="7.6" text-anchor="end" font-weight="bold" fill="#000">DAPI</text>
<text x="152.7" y="271.78" font-size="7.5" text-anchor="middle" fill="#000">1 h post local UVC</text>
<line x1="69.8" y1="275.6" x2="234.9" y2="275.6" stroke="#888" stroke-width="0.9"/>
<text x="89.8" y="293.58" font-size="7.5" text-anchor="middle" fill="#000">siLuc</text>
<text x="131" y="293.58" font-size="7.5" text-anchor="middle" fill="#000">siDNAJC9 #1</text>
<text x="173" y="293.58" font-size="7.5" text-anchor="middle" fill="#000">siMCM2</text>
<text x="214.5" y="285.08" font-size="7.5" text-anchor="middle" fill="#000">siDNAJC9 #1</text>
<text x="214.5" y="293.58" font-size="7.5" text-anchor="middle" fill="#000">+siMCM2</text>
<text x="67.8" y="316.95" font-size="7.7" text-anchor="end" font-weight="bold" fill="#000">New H3.3-SNAP</text>
<text x="67.8" y="359.65" font-size="7.7" text-anchor="end" font-weight="bold" fill="#000">CPD</text>
<text x="67.8" y="403.55" font-size="7.7" text-anchor="end" font-weight="bold" fill="#000">DAPI</text>
<clipPath id="c200"><rect x="69.9" y="296.6" width="39.2" height="39.2"/></clipPath>
<rect x="69.9" y="296.6" width="39.2" height="39.2" fill="#000"/>
<g clip-path="url(#c200)">
<ellipse cx="89.7" cy="315.0" rx="14.5" ry="8.9" transform="rotate(14 89.7 315.0)" fill="#3a0404" opacity="1" filter="url(#b2)"/>
<ellipse cx="90.8" cy="310.2" rx="2.8" ry="1.8" transform="rotate(20 90.8 310.2)" fill="#ff2a1e" opacity="1" filter="url(#b1)"/>
</g>
<clipPath id="c201"><rect x="111.6" y="296.6" width="39.2" height="39.2"/></clipPath>
<rect x="111.6" y="296.6" width="39.2" height="39.2" fill="#000"/>
<g clip-path="url(#c201)">
<ellipse cx="131.0" cy="315.0" rx="11.3" ry="10.3" transform="rotate(0 131.0 315.0)" fill="#1e0202" opacity="1" filter="url(#b2)"/>
<ellipse cx="145.0" cy="305.6" rx="6.0" ry="8.0" transform="rotate(0 145.0 305.6)" fill="#1e0202" opacity="1" filter="url(#b2)"/>
<ellipse cx="131.5" cy="323.5" rx="2.5" ry="1.8" transform="rotate(0 131.5 323.5)" fill="#d82818" opacity="1" filter="url(#b1)"/>
</g>
<clipPath id="c202"><rect x="153.3" y="296.6" width="39.2" height="39.2"/></clipPath>
<rect x="153.3" y="296.6" width="39.2" height="39.2" fill="#000"/>
<g clip-path="url(#c202)">
<ellipse cx="172.6" cy="316.5" rx="14.0" ry="10.0" transform="rotate(0 172.6 316.5)" fill="#240303" opacity="1" filter="url(#b2)"/>
<circle cx="164.0" cy="310.5" r="2.2" fill="#7a0e0a" opacity="1" filter="url(#b1)"/>
</g>
<clipPath id="c203"><rect x="195.2" y="296.6" width="39.2" height="39.2"/></clipPath>
<rect x="195.2" y="296.6" width="39.2" height="39.2" fill="#000"/>
<g clip-path="url(#c203)">
<ellipse cx="212.0" cy="315.0" rx="10.0" ry="6.0" transform="rotate(30 212.0 315.0)" fill="#1c0202" opacity="1" filter="url(#b2)"/>
<ellipse cx="220.0" cy="302.0" rx="6.0" ry="7.0" transform="rotate(0 220.0 302.0)" fill="#160101" opacity="1" filter="url(#b2)"/>
<ellipse cx="231.0" cy="316.0" rx="4.0" ry="8.0" transform="rotate(0 231.0 316.0)" fill="#160101" opacity="1" filter="url(#b2)"/>
<ellipse cx="220.3" cy="323.0" rx="2.0" ry="1.6" transform="rotate(0 220.3 323.0)" fill="#b81a12" opacity="1" filter="url(#b1)"/>
</g>
<clipPath id="c204"><rect x="69.9" y="338.1" width="39.2" height="39.2"/></clipPath>
<rect x="69.9" y="338.1" width="39.2" height="39.2" fill="#000"/>
<g clip-path="url(#c204)">
<ellipse cx="89.7" cy="356.5" rx="14.5" ry="8.9" transform="rotate(14 89.7 356.5)" fill="#061a06" opacity="1" filter="url(#b2)"/>
<ellipse cx="90.8" cy="352.0" rx="2.9" ry="1.9" transform="rotate(20 90.8 352.0)" fill="#3ad03a" opacity="1" filter="url(#b1)"/>
</g>
<clipPath id="c205"><rect x="111.6" y="338.1" width="39.2" height="39.2"/></clipPath>
<rect x="111.6" y="338.1" width="39.2" height="39.2" fill="#000"/>
<g clip-path="url(#c205)">
<ellipse cx="131.0" cy="356.5" rx="11.3" ry="10.3" transform="rotate(0 131.0 356.5)" fill="#0a280a" opacity="1" filter="url(#b2)"/>
<ellipse cx="145.0" cy="347.1" rx="6.0" ry="8.0" transform="rotate(0 145.0 347.1)" fill="#0a280a" opacity="1" filter="url(#b2)"/>
<ellipse cx="131.8" cy="365.3" rx="2.8" ry="2.2" transform="rotate(0 131.8 365.3)" fill="#50f050" opacity="1" filter="url(#b1)"/>
</g>
<clipPath id="c206"><rect x="153.3" y="338.1" width="39.2" height="39.2"/></clipPath>
<rect x="153.3" y="338.1" width="39.2" height="39.2" fill="#000"/>
<g clip-path="url(#c206)">
<ellipse cx="172.6" cy="358.0" rx="14.0" ry="10.0" transform="rotate(0 172.6 358.0)" fill="#072007" opacity="1" filter="url(#b2)"/>
<circle cx="164.0" cy="351.8" r="2.4" fill="#5af05a" opacity="1" filter="url(#b1)"/>
<circle cx="172.8" cy="350.1" r="1.3" fill="#2a902a" opacity="1" filter="url(#b1)"/>
</g>
<clipPath id="c207"><rect x="195.2" y="338.1" width="39.2" height="39.2"/></clipPath>
<rect x="195.2" y="338.1" width="39.2" height="39.2" fill="#000"/>
<g clip-path="url(#c207)">
<ellipse cx="212.0" cy="356.5" rx="10.0" ry="6.0" transform="rotate(30 212.0 356.5)" fill="#062006" opacity="1" filter="url(#b2)"/>
<ellipse cx="220.0" cy="343.5" rx="6.0" ry="7.0" transform="rotate(0 220.0 343.5)" fill="#062006" opacity="1" filter="url(#b2)"/>
<ellipse cx="231.0" cy="357.5" rx="4.0" ry="8.0" transform="rotate(0 231.0 357.5)" fill="#062006" opacity="1" filter="url(#b2)"/>
<ellipse cx="220.3" cy="364.3" rx="2.2" ry="1.8" transform="rotate(0 220.3 364.3)" fill="#48d848" opacity="1" filter="url(#b1)"/>
<circle cx="196.3" cy="343.3" r="1.8" fill="#1e801e" opacity="1" filter="url(#b1)"/>
</g>
<clipPath id="c208"><rect x="69.9" y="379.3" width="39.2" height="39.2"/></clipPath>
<rect x="69.9" y="379.3" width="39.2" height="39.2" fill="#000"/>
<g clip-path="url(#c208)">
<ellipse cx="89.1" cy="398.8" rx="15.2" ry="9.4" transform="rotate(13 89.1 398.8)" fill="#a2a2a4" filter="url(#tex)"/>
</g>
<clipPath id="c209"><rect x="111.6" y="379.3" width="39.2" height="39.2"/></clipPath>
<rect x="111.6" y="379.3" width="39.2" height="39.2" fill="#000"/>
<g clip-path="url(#c209)">
<ellipse cx="131.8" cy="398.8" rx="11.8" ry="10.3" transform="rotate(30 131.8 398.8)" fill="#a8a8aa" filter="url(#tex)"/>
<ellipse cx="144.3" cy="388.5" rx="6.0" ry="8.3" transform="rotate(0 144.3 388.5)" fill="#acacae" filter="url(#tex)"/>
<ellipse cx="111.5" cy="389.0" rx="3.0" ry="9.0" transform="rotate(0 111.5 389.0)" fill="#989898" filter="url(#tex)"/>
<ellipse cx="115.0" cy="418.5" rx="5.0" ry="2.5" transform="rotate(0 115.0 418.5)" fill="#808080" filter="url(#tex)"/>
</g>
<clipPath id="c210"><rect x="153.3" y="379.3" width="39.2" height="39.2"/></clipPath>
<rect x="153.3" y="379.3" width="39.2" height="39.2" fill="#000"/>
<g clip-path="url(#c210)">
<path d="M158 400C157 390 163 388 170 388C175 388 179 392 184 393C189 395 189 403 186 406C181 410 170 409 163 408C159 406 158 403 158 400Z" fill="#a8a8a8" filter="url(#tex)"/>
</g>
<clipPath id="c211"><rect x="195.2" y="379.3" width="39.2" height="39.2"/></clipPath>
<rect x="195.2" y="379.3" width="39.2" height="39.2" fill="#000"/>
<g clip-path="url(#c211)">
<ellipse cx="220.5" cy="386.0" rx="5.5" ry="7.5" transform="rotate(-10 220.5 386.0)" fill="#a0a0a2" filter="url(#tex)"/>
<ellipse cx="214.0" cy="400.5" rx="9.0" ry="5.5" transform="rotate(30 214.0 400.5)" fill="#a0a0a2" filter="url(#tex)"/>
<ellipse cx="197.2" cy="402.4" rx="4.5" ry="6.5" transform="rotate(0 197.2 402.4)" fill="#808080" filter="url(#tex)"/>
<ellipse cx="232.5" cy="399.5" rx="3.5" ry="8.0" transform="rotate(0 232.5 399.5)" fill="#808080" filter="url(#tex)"/>
<ellipse cx="223.0" cy="413.7" rx="7.0" ry="5.0" transform="rotate(0 223.0 413.7)" fill="#a0a0a2" filter="url(#tex)"/>
<ellipse cx="196.0" cy="383.0" rx="3.5" ry="4.5" transform="rotate(0 196.0 383.0)" fill="#808080" filter="url(#tex)"/>
<ellipse cx="210.5" cy="418.5" rx="6.0" ry="2.0" transform="rotate(0 210.5 418.5)" fill="#808080" filter="url(#tex)"/>
</g>
<line x1="225.3" y1="420.8" x2="234" y2="420.8" stroke="#000" stroke-width="1.6"/>
<defs>
<radialGradient id="gblue" cx="50%" cy="45%" r="55%"><stop offset="0" stop-color="#5c9cff"/><stop offset="0.75" stop-color="#3a78f0"/><stop offset="1" stop-color="#2858d8"/></radialGradient>
<radialGradient id="gred" cx="50%" cy="50%" r="55%"><stop offset="0" stop-color="#f07070"/><stop offset="0.6" stop-color="#e03030"/><stop offset="1" stop-color="#c81818"/></radialGradient>
<marker id="ah" markerWidth="6" markerHeight="6" refX="5" refY="3" orient="auto" markerUnits="userSpaceOnUse"><path d="M0 0.6L5.5 3L0 5.4z" fill="#000"/></marker>
<marker id="ahg" markerWidth="5" markerHeight="5" refX="4" refY="2.5" orient="auto" markerUnits="userSpaceOnUse"><path d="M0 0.5L4.5 2.5L0 4.5z" fill="#999"/></marker>
</defs>
<path stroke="#111" stroke-width="1.1" fill="none" stroke-linecap="round" d="M444 339.5C452 336 455 340 455 346C455 352 459 355 465 355"/>
<path stroke="#111" stroke-width="1.1" fill="none" stroke-linecap="round" d="M471 339C473 333 478 332 485 334"/>
<path stroke="#111" stroke-width="1.1" fill="none" stroke-linecap="round" d="M454 356C463 354 470 357 471 363C472 369 468 372 465 373"/>
<path stroke="#111" stroke-width="1.1" fill="none" stroke-linecap="round" d="M497 343C501 346 500 350 494 352"/>
<path stroke="#111" stroke-width="1.1" fill="none" stroke-linecap="round" d="M446 371C443 375 441 378 440 381"/>
<path stroke="#111" stroke-width="1.1" fill="none" stroke-linecap="round" d="M480 368C476 370 475 372 476 374"/>
<path stroke="#111" stroke-width="1.1" fill="none" stroke-linecap="round" d="M489 383C492 388 488 394 478 396"/>
<path stroke="#111" stroke-width="1.1" fill="none" stroke-linecap="round" d="M462 384C460 388 461 392 463 395"/>
<path stroke="#111" stroke-width="1.1" fill="none" stroke-linecap="round" d="M431 351L428 355"/>
<path stroke="#111" stroke-width="1.1" fill="none" stroke-linecap="round" d="M437 396L436 400"/>
<g transform="translate(437 344) rotate(-5) scale(0.97)"><ellipse cx="-4.6" cy="-4.0" rx="4.4" ry="2.9" transform="rotate(40 -4.6 -4.0)" fill="#c4c4c4" stroke="#8a8a8a" stroke-width="0.45"/><ellipse cx="4.6" cy="-4.0" rx="4.4" ry="2.9" transform="rotate(-40 4.6 -4.0)" fill="#eeeeee" stroke="#8a8a8a" stroke-width="0.45"/><ellipse cx="-4.6" cy="4.0" rx="4.4" ry="2.9" transform="rotate(-40 -4.6 4.0)" fill="#eeeeee" stroke="#8a8a8a" stroke-width="0.45"/><ellipse cx="4.6" cy="4.0" rx="4.4" ry="2.9" transform="rotate(40 4.6 4.0)" fill="#c4c4c4" stroke="#8a8a8a" stroke-width="0.45"/><rect x="-3.3" y="-9.2" width="6.6" height="18.4" fill="#ababab"/><path d="M-2.75 -9.2V9.2M2.75 -9.2V9.2" stroke="#111" stroke-width="1.35"/></g>
<g transform="translate(468 347.5) rotate(-55) scale(0.97)"><ellipse cx="-4.6" cy="-4.0" rx="4.4" ry="2.9" transform="rotate(40 -4.6 -4.0)" fill="#c4c4c4" stroke="#8a8a8a" stroke-width="0.45"/><ellipse cx="4.6" cy="-4.0" rx="4.4" ry="2.9" transform="rotate(-40 4.6 -4.0)" fill="#eeeeee" stroke="#8a8a8a" stroke-width="0.45"/><ellipse cx="-4.6" cy="4.0" rx="4.4" ry="2.9" transform="rotate(-40 -4.6 4.0)" fill="#eeeeee" stroke="#8a8a8a" stroke-width="0.45"/><ellipse cx="4.6" cy="4.0" rx="4.4" ry="2.9" transform="rotate(40 4.6 4.0)" fill="#c4c4c4" stroke="#8a8a8a" stroke-width="0.45"/><rect x="-3.3" y="-9.2" width="6.6" height="18.4" fill="#ababab"/><path d="M-2.75 -9.2V9.2M2.75 -9.2V9.2" stroke="#111" stroke-width="1.35"/></g>
<g transform="translate(491.8 337.5) rotate(75) scale(0.97)"><ellipse cx="-4.6" cy="-4.0" rx="4.4" ry="2.9" transform="rotate(40 -4.6 -4.0)" fill="#c4c4c4" stroke="#8a8a8a" stroke-width="0.45"/><ellipse cx="4.6" cy="-4.0" rx="4.4" ry="2.9" transform="rotate(-40 4.6 -4.0)" fill="#eeeeee" stroke="#8a8a8a" stroke-width="0.45"/><ellipse cx="-4.6" cy="4.0" rx="4.4" ry="2.9" transform="rotate(-40 -4.6 4.0)" fill="#eeeeee" stroke="#8a8a8a" stroke-width="0.45"/><ellipse cx="4.6" cy="4.0" rx="4.4" ry="2.9" transform="rotate(40 4.6 4.0)" fill="#c4c4c4" stroke="#8a8a8a" stroke-width="0.45"/><rect x="-3.3" y="-9.2" width="6.6" height="18.4" fill="#ababab"/><path d="M-2.75 -9.2V9.2M2.75 -9.2V9.2" stroke="#111" stroke-width="1.35"/></g>
<g transform="translate(449.8 362.8) rotate(-50) scale(0.97)"><ellipse cx="-4.6" cy="-4.0" rx="4.4" ry="2.9" transform="rotate(40 -4.6 -4.0)" fill="#c4c4c4" stroke="#8a8a8a" stroke-width="0.45"/><ellipse cx="4.6" cy="-4.0" rx="4.4" ry="2.9" transform="rotate(-40 4.6 -4.0)" fill="#eeeeee" stroke="#8a8a8a" stroke-width="0.45"/><ellipse cx="-4.6" cy="4.0" rx="4.4" ry="2.9" transform="rotate(-40 -4.6 4.0)" fill="#eeeeee" stroke="#8a8a8a" stroke-width="0.45"/><ellipse cx="4.6" cy="4.0" rx="4.4" ry="2.9" transform="rotate(40 4.6 4.0)" fill="#c4c4c4" stroke="#8a8a8a" stroke-width="0.45"/><rect x="-3.3" y="-9.2" width="6.6" height="18.4" fill="#ababab"/><path d="M-2.75 -9.2V9.2M2.75 -9.2V9.2" stroke="#111" stroke-width="1.35"/></g>
<g transform="translate(485.8 356.5) rotate(-40) scale(0.97)"><ellipse cx="-4.6" cy="-4.0" rx="4.4" ry="2.9" transform="rotate(40 -4.6 -4.0)" fill="#c4c4c4" stroke="#8a8a8a" stroke-width="0.45"/><ellipse cx="4.6" cy="-4.0" rx="4.4" ry="2.9" transform="rotate(-40 4.6 -4.0)" fill="#eeeeee" stroke="#8a8a8a" stroke-width="0.45"/><ellipse cx="-4.6" cy="4.0" rx="4.4" ry="2.9" transform="rotate(-40 -4.6 4.0)" fill="#eeeeee" stroke="#8a8a8a" stroke-width="0.45"/><ellipse cx="4.6" cy="4.0" rx="4.4" ry="2.9" transform="rotate(40 4.6 4.0)" fill="#c4c4c4" stroke="#8a8a8a" stroke-width="0.45"/><rect x="-3.3" y="-9.2" width="6.6" height="18.4" fill="#ababab"/><path d="M-2.75 -9.2V9.2M2.75 -9.2V9.2" stroke="#111" stroke-width="1.35"/></g>
<g transform="translate(483 377) rotate(95) scale(0.97)"><ellipse cx="-4.6" cy="-4.0" rx="4.4" ry="2.9" transform="rotate(40 -4.6 -4.0)" fill="#c4c4c4" stroke="#8a8a8a" stroke-width="0.45"/><ellipse cx="4.6" cy="-4.0" rx="4.4" ry="2.9" transform="rotate(-40 4.6 -4.0)" fill="#eeeeee" stroke="#8a8a8a" stroke-width="0.45"/><ellipse cx="-4.6" cy="4.0" rx="4.4" ry="2.9" transform="rotate(-40 -4.6 4.0)" fill="#eeeeee" stroke="#8a8a8a" stroke-width="0.45"/><ellipse cx="4.6" cy="4.0" rx="4.4" ry="2.9" transform="rotate(40 4.6 4.0)" fill="#c4c4c4" stroke="#8a8a8a" stroke-width="0.45"/><rect x="-3.3" y="-9.2" width="6.6" height="18.4" fill="#ababab"/><path d="M-2.75 -9.2V9.2M2.75 -9.2V9.2" stroke="#111" stroke-width="1.35"/></g>
<g transform="translate(441 388) rotate(-10) scale(0.97)"><ellipse cx="-4.6" cy="-4.0" rx="4.4" ry="2.9" transform="rotate(40 -4.6 -4.0)" fill="#c4c4c4" stroke="#8a8a8a" stroke-width="0.45"/><ellipse cx="4.6" cy="-4.0" rx="4.4" ry="2.9" transform="rotate(-40 4.6 -4.0)" fill="#eeeeee" stroke="#8a8a8a" stroke-width="0.45"/><ellipse cx="-4.6" cy="4.0" rx="4.4" ry="2.9" transform="rotate(-40 -4.6 4.0)" fill="#eeeeee" stroke="#8a8a8a" stroke-width="0.45"/><ellipse cx="4.6" cy="4.0" rx="4.4" ry="2.9" transform="rotate(40 4.6 4.0)" fill="#c4c4c4" stroke="#8a8a8a" stroke-width="0.45"/><rect x="-3.3" y="-9.2" width="6.6" height="18.4" fill="#ababab"/><path d="M-2.75 -9.2V9.2M2.75 -9.2V9.2" stroke="#111" stroke-width="1.35"/></g>
<g transform="translate(470 399) rotate(-20) scale(0.97)"><ellipse cx="-4.6" cy="-4.0" rx="4.4" ry="2.9" transform="rotate(40 -4.6 -4.0)" fill="#c4c4c4" stroke="#8a8a8a" stroke-width="0.45"/><ellipse cx="4.6" cy="-4.0" rx="4.4" ry="2.9" transform="rotate(-40 4.6 -4.0)" fill="#eeeeee" stroke="#8a8a8a" stroke-width="0.45"/><ellipse cx="-4.6" cy="4.0" rx="4.4" ry="2.9" transform="rotate(-40 -4.6 4.0)" fill="#eeeeee" stroke="#8a8a8a" stroke-width="0.45"/><ellipse cx="4.6" cy="4.0" rx="4.4" ry="2.9" transform="rotate(40 4.6 4.0)" fill="#c4c4c4" stroke="#8a8a8a" stroke-width="0.45"/><rect x="-3.3" y="-9.2" width="6.6" height="18.4" fill="#ababab"/><path d="M-2.75 -9.2V9.2M2.75 -9.2V9.2" stroke="#111" stroke-width="1.35"/></g>
<path d="M462.9 371L464.2 374.86L467.85 373.05L466.04 376.7L469.9 378L466.04 379.3L467.85 382.95L464.2 381.14L462.9 385L461.6 381.14L457.95 382.95L459.76 379.3L455.9 378L459.76 376.7L457.95 373.05L461.6 374.86z" fill="#f4f020" stroke="#c8c000" stroke-width="0.4"/>
<path d="M470.5 372.5L475.5 367.5" stroke="#999" stroke-width="0.9" marker-end="url(#ahg)"/>
<path d="M457.5 383.5L452.5 388.5" stroke="#999" stroke-width="0.9" marker-end="url(#ahg)"/>
<path stroke="#111" stroke-width="1.1" fill="none" stroke-linecap="round" d="M628 349L631 343L634 349"/>
<path stroke="#111" stroke-width="1.1" fill="none" stroke-linecap="round" d="M649 351C653 353 653 357 650 359"/>
<path stroke="#111" stroke-width="1.1" fill="none" stroke-linecap="round" d="M625 396C628 400 636 400 640 397"/>
<path stroke="#111" stroke-width="1.1" fill="none" stroke-linecap="round" d="M601 363L597 368"/>
<path stroke="#111" stroke-width="1.1" fill="none" stroke-linecap="round" d="M606 398L604 403"/>
<g transform="translate(608.7 355.2) rotate(-20) scale(1)"><ellipse cx="-4.6" cy="-4.0" rx="4.4" ry="2.9" transform="rotate(40 -4.6 -4.0)" fill="#c4c4c4" stroke="#8a8a8a" stroke-width="0.45"/><ellipse cx="4.6" cy="-4.0" rx="4.4" ry="2.9" transform="rotate(-40 4.6 -4.0)" fill="#eeeeee" stroke="#8a8a8a" stroke-width="0.45"/><ellipse cx="-4.6" cy="4.0" rx="4.4" ry="2.9" transform="rotate(-40 -4.6 4.0)" fill="#eeeeee" stroke="#8a8a8a" stroke-width="0.45"/><ellipse cx="4.6" cy="4.0" rx="4.4" ry="2.9" transform="rotate(40 4.6 4.0)" fill="#c4c4c4" stroke="#8a8a8a" stroke-width="0.45"/><rect x="-3.3" y="-9.2" width="6.6" height="18.4" fill="#ababab"/><path d="M-2.75 -9.2V9.2M2.75 -9.2V9.2" stroke="#111" stroke-width="1.35"/></g>
<g transform="translate(623.1 353.7) rotate(-45) scale(1)"><ellipse cx="-4.6" cy="-4.0" rx="4.4" ry="2.9" transform="rotate(40 -4.6 -4.0)" fill="#c4c4c4" stroke="#8a8a8a" stroke-width="0.45"/><ellipse cx="4.6" cy="-4.0" rx="4.4" ry="2.9" transform="rotate(-40 4.6 -4.0)" fill="#eeeeee" stroke="#8a8a8a" stroke-width="0.45"/><ellipse cx="-4.6" cy="4.0" rx="4.4" ry="2.9" transform="rotate(-40 -4.6 4.0)" fill="#eeeeee" stroke="#8a8a8a" stroke-width="0.45"/><ellipse cx="4.6" cy="4.0" rx="4.4" ry="2.9" transform="rotate(40 4.6 4.0)" fill="#c4c4c4" stroke="#8a8a8a" stroke-width="0.45"/><rect x="-3.3" y="-9.2" width="6.6" height="18.4" fill="#ababab"/><path d="M-2.75 -9.2V9.2M2.75 -9.2V9.2" stroke="#111" stroke-width="1.35"/></g>
<g transform="translate(636.8 353) rotate(-15) scale(1)"><ellipse cx="-4.6" cy="-4.0" rx="4.4" ry="2.9" transform="rotate(40 -4.6 -4.0)" fill="#c4c4c4" stroke="#8a8a8a" stroke-width="0.45"/><ellipse cx="4.6" cy="-4.0" rx="4.4" ry="2.9" transform="rotate(-40 4.6 -4.0)" fill="#eeeeee" stroke="#8a8a8a" stroke-width="0.45"/><ellipse cx="-4.6" cy="4.0" rx="4.4" ry="2.9" transform="rotate(-40 -4.6 4.0)" fill="#eeeeee" stroke="#8a8a8a" stroke-width="0.45"/><ellipse cx="4.6" cy="4.0" rx="4.4" ry="2.9" transform="rotate(40 4.6 4.0)" fill="#c4c4c4" stroke="#8a8a8a" stroke-width="0.45"/><rect x="-3.3" y="-9.2" width="6.6" height="18.4" fill="#ababab"/><path d="M-2.75 -9.2V9.2M2.75 -9.2V9.2" stroke="#111" stroke-width="1.35"/></g>
<g transform="translate(621.7 367.4) rotate(40) scale(1)"><ellipse cx="-4.6" cy="-4.0" rx="4.4" ry="2.9" transform="rotate(40 -4.6 -4.0)" fill="#c4c4c4" stroke="#8a8a8a" stroke-width="0.45"/><ellipse cx="4.6" cy="-4.0" rx="4.4" ry="2.9" transform="rotate(-40 4.6 -4.0)" fill="#eeeeee" stroke="#8a8a8a" stroke-width="0.45"/><ellipse cx="-4.6" cy="4.0" rx="4.4" ry="2.9" transform="rotate(-40 -4.6 4.0)" fill="#eeeeee" stroke="#8a8a8a" stroke-width="0.45"/><ellipse cx="4.6" cy="4.0" rx="4.4" ry="2.9" transform="rotate(40 4.6 4.0)" fill="#c4c4c4" stroke="#8a8a8a" stroke-width="0.45"/><rect x="-3.3" y="-9.2" width="6.6" height="18.4" fill="#ababab"/><path d="M-2.75 -9.2V9.2M2.75 -9.2V9.2" stroke="#111" stroke-width="1.35"/></g>
<g transform="translate(608 373.9) rotate(-55) scale(1)"><ellipse cx="-4.6" cy="-4.0" rx="4.4" ry="2.9" transform="rotate(40 -4.6 -4.0)" fill="#c4c4c4" stroke="#8a8a8a" stroke-width="0.45"/><ellipse cx="4.6" cy="-4.0" rx="4.4" ry="2.9" transform="rotate(-40 4.6 -4.0)" fill="#eeeeee" stroke="#8a8a8a" stroke-width="0.45"/><ellipse cx="-4.6" cy="4.0" rx="4.4" ry="2.9" transform="rotate(-40 -4.6 4.0)" fill="#eeeeee" stroke="#8a8a8a" stroke-width="0.45"/><ellipse cx="4.6" cy="4.0" rx="4.4" ry="2.9" transform="rotate(40 4.6 4.0)" fill="#c4c4c4" stroke="#8a8a8a" stroke-width="0.45"/><rect x="-3.3" y="-9.2" width="6.6" height="18.4" fill="#ababab"/><path d="M-2.75 -9.2V9.2M2.75 -9.2V9.2" stroke="#111" stroke-width="1.35"/></g>
<g transform="translate(644.8 368.9) rotate(-45) scale(1)"><ellipse cx="-4.6" cy="-4.0" rx="4.4" ry="2.9" transform="rotate(40 -4.6 -4.0)" fill="#c4c4c4" stroke="#8a8a8a" stroke-width="0.45"/><ellipse cx="4.6" cy="-4.0" rx="4.4" ry="2.9" transform="rotate(-40 4.6 -4.0)" fill="#eeeeee" stroke="#8a8a8a" stroke-width="0.45"/><ellipse cx="-4.6" cy="4.0" rx="4.4" ry="2.9" transform="rotate(-40 -4.6 4.0)" fill="#eeeeee" stroke="#8a8a8a" stroke-width="0.45"/><ellipse cx="4.6" cy="4.0" rx="4.4" ry="2.9" transform="rotate(40 4.6 4.0)" fill="#c4c4c4" stroke="#8a8a8a" stroke-width="0.45"/><rect x="-3.3" y="-9.2" width="6.6" height="18.4" fill="#ababab"/><path d="M-2.75 -9.2V9.2M2.75 -9.2V9.2" stroke="#111" stroke-width="1.35"/></g>
<g transform="translate(644 384.7) rotate(-55) scale(1)"><ellipse cx="-4.6" cy="-4.0" rx="4.4" ry="2.9" transform="rotate(40 -4.6 -4.0)" fill="#c4c4c4" stroke="#8a8a8a" stroke-width="0.45"/><ellipse cx="4.6" cy="-4.0" rx="4.4" ry="2.9" transform="rotate(-40 4.6 -4.0)" fill="#eeeeee" stroke="#8a8a8a" stroke-width="0.45"/><ellipse cx="-4.6" cy="4.0" rx="4.4" ry="2.9" transform="rotate(-40 -4.6 4.0)" fill="#eeeeee" stroke="#8a8a8a" stroke-width="0.45"/><ellipse cx="4.6" cy="4.0" rx="4.4" ry="2.9" transform="rotate(40 4.6 4.0)" fill="#c4c4c4" stroke="#8a8a8a" stroke-width="0.45"/><rect x="-3.3" y="-9.2" width="6.6" height="18.4" fill="#ababab"/><path d="M-2.75 -9.2V9.2M2.75 -9.2V9.2" stroke="#111" stroke-width="1.35"/></g>
<g transform="translate(612.3 389.8) rotate(-35) scale(1)"><ellipse cx="-4.6" cy="-4.0" rx="4.4" ry="2.9" transform="rotate(40 -4.6 -4.0)" fill="#c4c4c4" stroke="#8a8a8a" stroke-width="0.45"/><ellipse cx="4.6" cy="-4.0" rx="4.4" ry="2.9" transform="rotate(-40 4.6 -4.0)" fill="#eeeeee" stroke="#8a8a8a" stroke-width="0.45"/><ellipse cx="-4.6" cy="4.0" rx="4.4" ry="2.9" transform="rotate(-40 -4.6 4.0)" fill="#eeeeee" stroke="#8a8a8a" stroke-width="0.45"/><ellipse cx="4.6" cy="4.0" rx="4.4" ry="2.9" transform="rotate(40 4.6 4.0)" fill="#c4c4c4" stroke="#8a8a8a" stroke-width="0.45"/><rect x="-3.3" y="-9.2" width="6.6" height="18.4" fill="#ababab"/><path d="M-2.75 -9.2V9.2M2.75 -9.2V9.2" stroke="#111" stroke-width="1.35"/></g>
<g transform="translate(631 376) rotate(-40) scale(1)"><ellipse cx="-4.6" cy="-4.0" rx="4.4" ry="2.9" transform="rotate(40 -4.6 -4.0)" fill="#e85050" stroke="#b07070" stroke-width="0.45"/><ellipse cx="4.6" cy="-4.0" rx="4.4" ry="2.9" transform="rotate(-40 4.6 -4.0)" fill="#f4a0a0" stroke="#b07070" stroke-width="0.45"/><ellipse cx="-4.6" cy="4.0" rx="4.4" ry="2.9" transform="rotate(-40 -4.6 4.0)" fill="#f4a0a0" stroke="#b07070" stroke-width="0.45"/><ellipse cx="4.6" cy="4.0" rx="4.4" ry="2.9" transform="rotate(40 4.6 4.0)" fill="#e85050" stroke="#b07070" stroke-width="0.45"/><rect x="-3.3" y="-9.2" width="6.6" height="18.4" fill="#e01c1c"/><path d="M-2.75 -9.2V9.2M2.75 -9.2V9.2" stroke="#111" stroke-width="1.35"/></g>
<g transform="translate(626.7 388.3) rotate(-50) scale(1)"><ellipse cx="-4.6" cy="-4.0" rx="4.4" ry="2.9" transform="rotate(40 -4.6 -4.0)" fill="#e85050" stroke="#b07070" stroke-width="0.45"/><ellipse cx="4.6" cy="-4.0" rx="4.4" ry="2.9" transform="rotate(-40 4.6 -4.0)" fill="#f4a0a0" stroke="#b07070" stroke-width="0.45"/><ellipse cx="-4.6" cy="4.0" rx="4.4" ry="2.9" transform="rotate(-40 -4.6 4.0)" fill="#f4a0a0" stroke="#b07070" stroke-width="0.45"/><ellipse cx="4.6" cy="4.0" rx="4.4" ry="2.9" transform="rotate(40 4.6 4.0)" fill="#e85050" stroke="#b07070" stroke-width="0.45"/><rect x="-3.3" y="-9.2" width="6.6" height="18.4" fill="#e01c1c"/><path d="M-2.75 -9.2V9.2M2.75 -9.2V9.2" stroke="#111" stroke-width="1.35"/></g>
<path d="M652 340.7L647 345" stroke="#999" stroke-width="0.9" marker-end="url(#ahg)"/>
<path d="M595.7 403.5L600.8 398.8" stroke="#999" stroke-width="0.9" marker-end="url(#ahg)"/>
<ellipse cx="600.7" cy="276.8" rx="19.4" ry="11.8" fill="url(#gblue)"/>
<ellipse cx="572.5" cy="293.3" rx="19.9" ry="12.0" fill="url(#gred)"/>
<path d="M583.6 288.2L585.2 281.2A7.4 7.4 0 0 1 591.2 286.8z" fill="#d81818"/>
<path d="M578.3 277.9L582.9 282.3" stroke="#555" stroke-width="0.5"/>
<text x="600.4" y="280.37" font-size="6.9" text-anchor="middle" font-weight="bold" fill="#1a1a1a">MCM2</text>
<text x="572.5" y="296.14" font-size="6.8" text-anchor="middle" font-weight="bold" fill="#1a1a1a">DNAJC9</text>
<text x="569.7" y="276.56" font-size="5.7" text-anchor="middle" fill="#000">H3-H4</text>
<path d="M542.5 293.7H529.5V318.6" stroke="#111" stroke-width="0.95" fill="none"/>
<path d="M517.6 318.6H541.3" stroke="#111" stroke-width="0.95" fill="none"/>
<path d="M517.6 318.1V335.5" stroke="#111" stroke-width="0.95" marker-end="url(#ah)"/>
<path d="M541.3 318.1V335.5" stroke="#111" stroke-width="0.95" marker-end="url(#ah)"/>
<path d="M608 293.7H621.2V336.3" stroke="#111" stroke-width="0.95" fill="none" marker-end="url(#ah)"/>
<text x="626.5" y="304.4" font-size="6.4" text-anchor="start" font-weight="bold" fill="#222">Parental histone</text>
<text x="626.5" y="312.1" font-size="6.4" text-anchor="start" font-weight="bold" fill="#222">recovery</text>
<text x="518.5" y="343.7" font-size="5.8" text-anchor="middle" fill="#000">H3.3-H4</text>
<text x="542.6" y="343.7" font-size="5.8" text-anchor="middle" fill="#000">H3.1-H4</text>
<text x="578.7" y="343.68" font-size="5.75" text-anchor="middle" fill="#000">H2A/H2A.X-H2B</text>
<ellipse cx="514.5" cy="355.1" rx="9.9" ry="4.7" fill="#fff" stroke="#666" stroke-width="0.6"/>
<text x="514.5" y="357.53" font-size="5.6" text-anchor="middle" fill="#000">HIRA</text>
<ellipse cx="542.2" cy="355.1" rx="11.7" ry="4.7" fill="#fff" stroke="#666" stroke-width="0.6"/>
<text x="542.2" y="357.53" font-size="5.6" text-anchor="middle" fill="#000">CAF-1</text>
<ellipse cx="571.0" cy="355.1" rx="9.2" ry="4.7" fill="#fff" stroke="#666" stroke-width="0.6"/>
<text x="571" y="357.53" font-size="5.6" text-anchor="middle" fill="#000">FACT</text>
<path d="M520.2 353.6L522.4 345.0A8.2 8.2 0 0 1 528.6 352.8z" fill="#e01c1c"/>
<path d="M545.9 353.6L548.1 345.0A8.2 8.2 0 0 1 554.3 352.8z" fill="#e01c1c"/>
<path d="M580.5 352.5L580 348.2L582.5 345.6L585.5 346.2L587 349.5L585.5 354L582.5 354.3z" fill="#e88484" stroke="#d06a6a" stroke-width="0.4"/>
<path d="M514.5 365.3C515.3 370 517.5 373.4 521 373.8" stroke="#111" stroke-width="1.1" fill="none"/>
<path d="M541.2 365.3C542 370 544.2 373.4 547.7 373.8" stroke="#111" stroke-width="1.1" fill="none"/>
<path d="M570.7 365.3C571.5 370 573.7 373.4 577.2 373.8" stroke="#111" stroke-width="1.1" fill="none"/>
<path d="M506.4 374.2H588.5" stroke="#111" stroke-width="0.95" marker-end="url(#ah)"/>
<text x="546.6" y="388.1" font-size="6.4" text-anchor="middle" font-weight="bold" fill="#222">New histone deposition</text>
<text x="546.6" y="395.4" font-size="6.4" text-anchor="middle" font-weight="bold" fill="#222">coupled to DNA repair</text>
</svg>
</body></html>
